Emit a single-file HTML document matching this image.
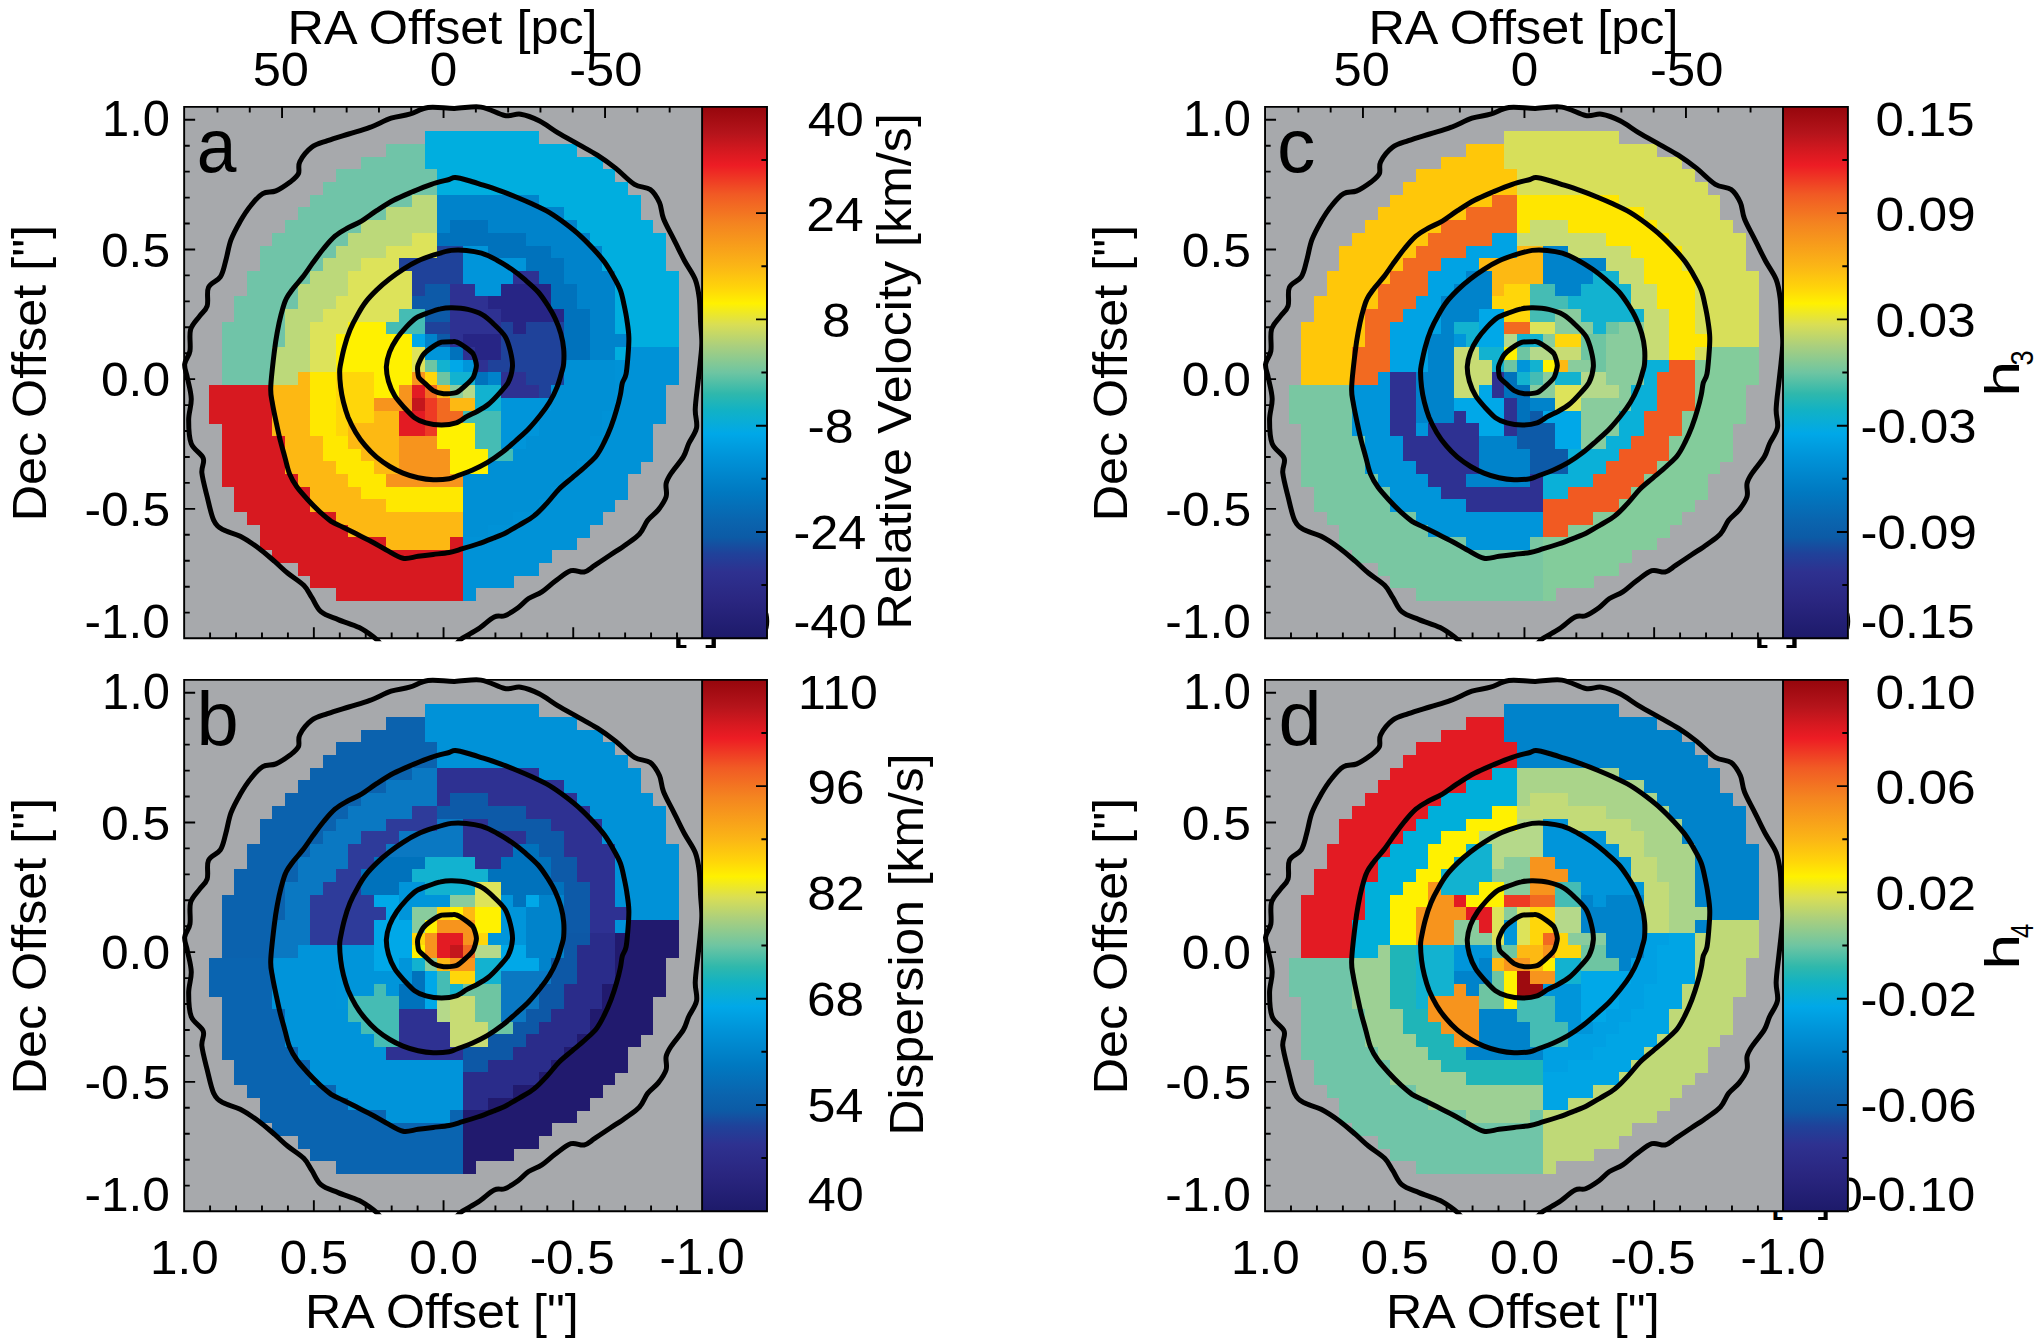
<!DOCTYPE html>
<html lang="en"><head><meta charset="utf-8"><title>Kinematic maps</title>
<style>html,body{margin:0;padding:0;background:#fff}svg{display:block}text{font-family:"Liberation Sans",Arial,Helvetica,sans-serif;fill:#000}</style></head><body>
<svg width="2041" height="1344" viewBox="0 0 2041 1344">
<defs>
<linearGradient id="cm" x1="0" y1="1" x2="0" y2="0"><stop offset="0.000" stop-color="#1D1A6A"/><stop offset="0.070" stop-color="#2A2680"/><stop offset="0.125" stop-color="#2E3190"/><stop offset="0.160" stop-color="#1F429A"/><stop offset="0.190" stop-color="#0C5BA6"/><stop offset="0.220" stop-color="#0A64AE"/><stop offset="0.275" stop-color="#0079C1"/><stop offset="0.340" stop-color="#0093D8"/><stop offset="0.385" stop-color="#00A8E8"/><stop offset="0.430" stop-color="#12B2C4"/><stop offset="0.460" stop-color="#2FB8AC"/><stop offset="0.500" stop-color="#6EC5A2"/><stop offset="0.550" stop-color="#AACF7E"/><stop offset="0.590" stop-color="#D9DE55"/><stop offset="0.630" stop-color="#FFF100"/><stop offset="0.660" stop-color="#FFD40A"/><stop offset="0.700" stop-color="#FBB616"/><stop offset="0.780" stop-color="#F48420"/><stop offset="0.835" stop-color="#F15A24"/><stop offset="0.890" stop-color="#ED1C24"/><stop offset="0.915" stop-color="#D71920"/><stop offset="0.950" stop-color="#B5141B"/><stop offset="1.000" stop-color="#96060C"/></linearGradient>
<clipPath id="clipa"><rect x="184.15" y="106.9" width="517.95" height="531.3"/></clipPath>
<clipPath id="cclipa"><rect x="-3" y="-3" width="520.95" height="537.3"/></clipPath>
<clipPath id="clipb"><rect x="184.15" y="679.9" width="517.95" height="531.3"/></clipPath>
<clipPath id="cclipb"><rect x="-3" y="-3" width="520.95" height="537.3"/></clipPath>
<clipPath id="clipc"><rect x="1265.05" y="106.9" width="517.95" height="531.3"/></clipPath>
<clipPath id="cclipc"><rect x="-3" y="-3" width="520.95" height="537.3"/></clipPath>
<clipPath id="clipd"><rect x="1265.05" y="679.9" width="517.95" height="531.3"/></clipPath>
<clipPath id="cclipd"><rect x="-3" y="-3" width="520.95" height="537.3"/></clipPath>
<clipPath id="fragA"><rect x="0" y="639.1" width="2041" height="30"/></clipPath><clipPath id="fragB"><rect x="0" y="1212.1" width="2041" height="30"/></clipPath><clipPath id="fragD"><rect x="1848.9" y="0" width="60" height="1344"/></clipPath><clipPath id="fragC"><rect x="768.0" y="0" width="60" height="1344"/></clipPath>
</defs>
<rect width="2041" height="1344" fill="#fff"/>
<g>
<rect x="184.15" y="106.9" width="517.95" height="531.3" fill="#A7A9AC"/>
<g clip-path="url(#clipa)" shape-rendering="crispEdges">
<rect x="424.56" y="131.33" width="114.51" height="12.99" fill="#00AEDF"/>
<rect x="386.49" y="144.02" width="38.37" height="12.99" fill="#70C4A8"/>
<rect x="424.56" y="144.02" width="152.58" height="12.99" fill="#00AEDF"/>
<rect x="361.11" y="156.71" width="63.75" height="12.99" fill="#70C4A8"/>
<rect x="424.56" y="156.71" width="177.96" height="12.99" fill="#00AEDF"/>
<rect x="335.73" y="169.4" width="101.82" height="12.99" fill="#70C4A8"/>
<rect x="437.25" y="169.4" width="177.96" height="12.99" fill="#00AEDF"/>
<rect x="323.04" y="182.09" width="114.51" height="12.99" fill="#70C4A8"/>
<rect x="437.25" y="182.09" width="190.65" height="12.99" fill="#00AEDF"/>
<rect x="310.35" y="194.78" width="101.82" height="12.99" fill="#70C4A8"/>
<rect x="411.87" y="194.78" width="25.68" height="12.99" fill="#BCD97A"/>
<rect x="437.25" y="194.78" width="101.82" height="12.99" fill="#0083CB"/>
<rect x="538.77" y="194.78" width="101.82" height="12.99" fill="#00AEDF"/>
<rect x="297.66" y="207.47" width="89.13" height="12.99" fill="#70C4A8"/>
<rect x="386.49" y="207.47" width="51.06" height="12.99" fill="#BCD97A"/>
<rect x="437.25" y="207.47" width="127.2" height="12.99" fill="#0083CB"/>
<rect x="564.15" y="207.47" width="76.44" height="12.99" fill="#00AEDF"/>
<rect x="284.97" y="220.16" width="76.44" height="12.99" fill="#70C4A8"/>
<rect x="361.11" y="220.16" width="76.44" height="12.99" fill="#BCD97A"/>
<rect x="437.25" y="220.16" width="12.99" height="12.99" fill="#0083CB"/>
<rect x="449.94" y="220.16" width="38.37" height="12.99" fill="#0072BC"/>
<rect x="488.01" y="220.16" width="89.13" height="12.99" fill="#0083CB"/>
<rect x="576.84" y="220.16" width="76.44" height="12.99" fill="#00AEDF"/>
<rect x="272.28" y="232.85" width="76.44" height="12.99" fill="#70C4A8"/>
<rect x="348.42" y="232.85" width="63.75" height="12.99" fill="#BCD97A"/>
<rect x="411.87" y="232.85" width="25.68" height="12.99" fill="#DDE35A"/>
<rect x="437.25" y="232.85" width="89.13" height="12.99" fill="#0072BC"/>
<rect x="526.08" y="232.85" width="63.75" height="12.99" fill="#0083CB"/>
<rect x="589.53" y="232.85" width="76.44" height="12.99" fill="#00AEDF"/>
<rect x="259.59" y="245.54" width="76.44" height="12.99" fill="#70C4A8"/>
<rect x="335.73" y="245.54" width="51.06" height="12.99" fill="#BCD97A"/>
<rect x="386.49" y="245.54" width="51.06" height="12.99" fill="#DDE35A"/>
<rect x="437.25" y="245.54" width="25.68" height="12.99" fill="#1F429A"/>
<rect x="462.63" y="245.54" width="25.68" height="12.99" fill="#0095DA"/>
<rect x="488.01" y="245.54" width="63.75" height="12.99" fill="#0072BC"/>
<rect x="551.46" y="245.54" width="51.06" height="12.99" fill="#0083CB"/>
<rect x="602.22" y="245.54" width="63.75" height="12.99" fill="#00AEDF"/>
<rect x="259.59" y="258.23" width="63.75" height="12.99" fill="#70C4A8"/>
<rect x="323.04" y="258.23" width="38.37" height="12.99" fill="#BCD97A"/>
<rect x="361.11" y="258.23" width="38.37" height="12.99" fill="#DDE35A"/>
<rect x="399.18" y="258.23" width="63.75" height="12.99" fill="#1F429A"/>
<rect x="462.63" y="258.23" width="63.75" height="12.99" fill="#0095DA"/>
<rect x="526.08" y="258.23" width="38.37" height="12.99" fill="#0072BC"/>
<rect x="564.15" y="258.23" width="38.37" height="12.99" fill="#0083CB"/>
<rect x="602.22" y="258.23" width="63.75" height="12.99" fill="#00AEDF"/>
<rect x="246.9" y="270.92" width="63.75" height="12.99" fill="#70C4A8"/>
<rect x="310.35" y="270.92" width="38.37" height="12.99" fill="#BCD97A"/>
<rect x="348.42" y="270.92" width="63.75" height="12.99" fill="#DDE35A"/>
<rect x="411.87" y="270.92" width="51.06" height="12.99" fill="#1F429A"/>
<rect x="462.63" y="270.92" width="51.06" height="12.99" fill="#0095DA"/>
<rect x="513.39" y="270.92" width="25.68" height="12.99" fill="#2E3192"/>
<rect x="538.77" y="270.92" width="25.68" height="12.99" fill="#0072BC"/>
<rect x="564.15" y="270.92" width="51.06" height="12.99" fill="#0083CB"/>
<rect x="614.91" y="270.92" width="63.75" height="12.99" fill="#00AEDF"/>
<rect x="246.9" y="283.61" width="51.06" height="12.99" fill="#70C4A8"/>
<rect x="297.66" y="283.61" width="51.06" height="12.99" fill="#BCD97A"/>
<rect x="348.42" y="283.61" width="63.75" height="12.99" fill="#DDE35A"/>
<rect x="411.87" y="283.61" width="12.99" height="12.99" fill="#1F429A"/>
<rect x="424.56" y="283.61" width="25.68" height="12.99" fill="#0D5AA8"/>
<rect x="449.94" y="283.61" width="25.68" height="12.99" fill="#2E3192"/>
<rect x="475.32" y="283.61" width="25.68" height="12.99" fill="#0095DA"/>
<rect x="500.7" y="283.61" width="51.06" height="12.99" fill="#272585"/>
<rect x="551.46" y="283.61" width="25.68" height="12.99" fill="#0072BC"/>
<rect x="576.84" y="283.61" width="38.37" height="12.99" fill="#0083CB"/>
<rect x="614.91" y="283.61" width="63.75" height="12.99" fill="#00AEDF"/>
<rect x="234.21" y="296.3" width="63.75" height="12.99" fill="#70C4A8"/>
<rect x="297.66" y="296.3" width="38.37" height="12.99" fill="#BCD97A"/>
<rect x="335.73" y="296.3" width="76.44" height="12.99" fill="#DDE35A"/>
<rect x="411.87" y="296.3" width="38.37" height="12.99" fill="#0D5AA8"/>
<rect x="449.94" y="296.3" width="38.37" height="12.99" fill="#2E3192"/>
<rect x="488.01" y="296.3" width="63.75" height="12.99" fill="#272585"/>
<rect x="551.46" y="296.3" width="25.68" height="12.99" fill="#0072BC"/>
<rect x="576.84" y="296.3" width="38.37" height="12.99" fill="#0083CB"/>
<rect x="614.91" y="296.3" width="63.75" height="12.99" fill="#00AEDF"/>
<rect x="234.21" y="308.99" width="51.06" height="12.99" fill="#70C4A8"/>
<rect x="284.97" y="308.99" width="38.37" height="12.99" fill="#BCD97A"/>
<rect x="323.04" y="308.99" width="76.44" height="12.99" fill="#DDE35A"/>
<rect x="399.18" y="308.99" width="25.68" height="12.99" fill="#45BCB4"/>
<rect x="424.56" y="308.99" width="25.68" height="12.99" fill="#0D5AA8"/>
<rect x="449.94" y="308.99" width="51.06" height="12.99" fill="#2E3192"/>
<rect x="500.7" y="308.99" width="63.75" height="12.99" fill="#272585"/>
<rect x="564.15" y="308.99" width="25.68" height="12.99" fill="#0072BC"/>
<rect x="589.53" y="308.99" width="25.68" height="12.99" fill="#0083CB"/>
<rect x="614.91" y="308.99" width="63.75" height="12.99" fill="#00AEDF"/>
<rect x="221.52" y="321.68" width="63.75" height="12.99" fill="#70C4A8"/>
<rect x="284.97" y="321.68" width="25.68" height="12.99" fill="#BCD97A"/>
<rect x="310.35" y="321.68" width="38.37" height="12.99" fill="#DDE35A"/>
<rect x="348.42" y="321.68" width="38.37" height="12.99" fill="#FFF100"/>
<rect x="386.49" y="321.68" width="38.37" height="12.99" fill="#45BCB4"/>
<rect x="424.56" y="321.68" width="25.68" height="12.99" fill="#1F429A"/>
<rect x="449.94" y="321.68" width="51.06" height="12.99" fill="#2E3192"/>
<rect x="500.7" y="321.68" width="12.99" height="12.99" fill="#1F429A"/>
<rect x="513.39" y="321.68" width="12.99" height="12.99" fill="#272585"/>
<rect x="526.08" y="321.68" width="38.37" height="12.99" fill="#1F429A"/>
<rect x="564.15" y="321.68" width="25.68" height="12.99" fill="#0072BC"/>
<rect x="589.53" y="321.68" width="25.68" height="12.99" fill="#0083CB"/>
<rect x="614.91" y="321.68" width="63.75" height="12.99" fill="#00AEDF"/>
<rect x="221.52" y="334.37" width="63.75" height="12.99" fill="#70C4A8"/>
<rect x="284.97" y="334.37" width="25.68" height="12.99" fill="#BCD97A"/>
<rect x="310.35" y="334.37" width="25.68" height="12.99" fill="#DDE35A"/>
<rect x="335.73" y="334.37" width="76.44" height="12.99" fill="#FFF100"/>
<rect x="411.87" y="334.37" width="12.99" height="12.99" fill="#00A8E8"/>
<rect x="424.56" y="334.37" width="12.99" height="12.99" fill="#0083CB"/>
<rect x="437.25" y="334.37" width="12.99" height="12.99" fill="#0D5AA8"/>
<rect x="449.94" y="334.37" width="12.99" height="12.99" fill="#2E3192"/>
<rect x="462.63" y="334.37" width="38.37" height="12.99" fill="#272585"/>
<rect x="500.7" y="334.37" width="63.75" height="12.99" fill="#1F429A"/>
<rect x="564.15" y="334.37" width="25.68" height="12.99" fill="#0072BC"/>
<rect x="589.53" y="334.37" width="38.37" height="12.99" fill="#0083CB"/>
<rect x="627.6" y="334.37" width="51.06" height="12.99" fill="#00AEDF"/>
<rect x="221.52" y="347.06" width="51.06" height="12.99" fill="#70C4A8"/>
<rect x="272.28" y="347.06" width="38.37" height="12.99" fill="#BCD97A"/>
<rect x="310.35" y="347.06" width="25.68" height="12.99" fill="#DDE35A"/>
<rect x="335.73" y="347.06" width="76.44" height="12.99" fill="#FFF100"/>
<rect x="411.87" y="347.06" width="12.99" height="12.99" fill="#DDE35A"/>
<rect x="424.56" y="347.06" width="25.68" height="12.99" fill="#0095DA"/>
<rect x="449.94" y="347.06" width="12.99" height="12.99" fill="#0072BC"/>
<rect x="462.63" y="347.06" width="12.99" height="12.99" fill="#2E3192"/>
<rect x="475.32" y="347.06" width="25.68" height="12.99" fill="#272585"/>
<rect x="500.7" y="347.06" width="63.75" height="12.99" fill="#1F429A"/>
<rect x="564.15" y="347.06" width="25.68" height="12.99" fill="#0072BC"/>
<rect x="589.53" y="347.06" width="25.68" height="12.99" fill="#0083CB"/>
<rect x="614.91" y="347.06" width="12.99" height="12.99" fill="#00AEDF"/>
<rect x="627.6" y="347.06" width="51.06" height="12.99" fill="#0092D7"/>
<rect x="221.52" y="359.75" width="51.06" height="12.99" fill="#70C4A8"/>
<rect x="272.28" y="359.75" width="38.37" height="12.99" fill="#BCD97A"/>
<rect x="310.35" y="359.75" width="25.68" height="12.99" fill="#DDE35A"/>
<rect x="335.73" y="359.75" width="76.44" height="12.99" fill="#FFF100"/>
<rect x="411.87" y="359.75" width="12.99" height="12.99" fill="#DDE35A"/>
<rect x="424.56" y="359.75" width="12.99" height="12.99" fill="#6EC5A2"/>
<rect x="437.25" y="359.75" width="12.99" height="12.99" fill="#12B2D0"/>
<rect x="449.94" y="359.75" width="12.99" height="12.99" fill="#00A8E8"/>
<rect x="462.63" y="359.75" width="12.99" height="12.99" fill="#0095DA"/>
<rect x="475.32" y="359.75" width="12.99" height="12.99" fill="#2E3192"/>
<rect x="488.01" y="359.75" width="76.44" height="12.99" fill="#1F429A"/>
<rect x="564.15" y="359.75" width="51.06" height="12.99" fill="#0090D5"/>
<rect x="614.91" y="359.75" width="63.75" height="12.99" fill="#0092D7"/>
<rect x="221.52" y="372.44" width="51.06" height="12.99" fill="#70C4A8"/>
<rect x="272.28" y="372.44" width="25.68" height="12.99" fill="#BCD97A"/>
<rect x="297.66" y="372.44" width="12.99" height="12.99" fill="#FDB813"/>
<rect x="310.35" y="372.44" width="25.68" height="12.99" fill="#FFE800"/>
<rect x="335.73" y="372.44" width="38.37" height="12.99" fill="#FFD60A"/>
<rect x="373.8" y="372.44" width="38.37" height="12.99" fill="#FFF100"/>
<rect x="411.87" y="372.44" width="12.99" height="12.99" fill="#F7941D"/>
<rect x="424.56" y="372.44" width="12.99" height="12.99" fill="#FFD60A"/>
<rect x="437.25" y="372.44" width="12.99" height="12.99" fill="#6EC5A2"/>
<rect x="449.94" y="372.44" width="25.68" height="12.99" fill="#12B2D0"/>
<rect x="475.32" y="372.44" width="12.99" height="12.99" fill="#0072BC"/>
<rect x="488.01" y="372.44" width="12.99" height="12.99" fill="#0083CB"/>
<rect x="500.7" y="372.44" width="25.68" height="12.99" fill="#2E3192"/>
<rect x="526.08" y="372.44" width="38.37" height="12.99" fill="#1F429A"/>
<rect x="564.15" y="372.44" width="51.06" height="12.99" fill="#0090D5"/>
<rect x="614.91" y="372.44" width="63.75" height="12.99" fill="#0092D7"/>
<rect x="208.83" y="385.13" width="63.75" height="12.99" fill="#D71920"/>
<rect x="272.28" y="385.13" width="38.37" height="12.99" fill="#FDB813"/>
<rect x="310.35" y="385.13" width="25.68" height="12.99" fill="#FFE800"/>
<rect x="335.73" y="385.13" width="38.37" height="12.99" fill="#FFD60A"/>
<rect x="373.8" y="385.13" width="25.68" height="12.99" fill="#FFF100"/>
<rect x="399.18" y="385.13" width="12.99" height="12.99" fill="#F7941D"/>
<rect x="411.87" y="385.13" width="12.99" height="12.99" fill="#E31B23"/>
<rect x="424.56" y="385.13" width="12.99" height="12.99" fill="#F26A21"/>
<rect x="437.25" y="385.13" width="12.99" height="12.99" fill="#FDB913"/>
<rect x="449.94" y="385.13" width="12.99" height="12.99" fill="#89CC9D"/>
<rect x="462.63" y="385.13" width="12.99" height="12.99" fill="#B5D98A"/>
<rect x="475.32" y="385.13" width="25.68" height="12.99" fill="#12B2D0"/>
<rect x="500.7" y="385.13" width="38.37" height="12.99" fill="#2E3192"/>
<rect x="538.77" y="385.13" width="12.99" height="12.99" fill="#1F429A"/>
<rect x="551.46" y="385.13" width="63.75" height="12.99" fill="#0090D5"/>
<rect x="614.91" y="385.13" width="51.06" height="12.99" fill="#0092D7"/>
<rect x="208.83" y="397.82" width="63.75" height="12.99" fill="#D71920"/>
<rect x="272.28" y="397.82" width="38.37" height="12.99" fill="#FDB813"/>
<rect x="310.35" y="397.82" width="25.68" height="12.99" fill="#FFE800"/>
<rect x="335.73" y="397.82" width="38.37" height="12.99" fill="#FFD60A"/>
<rect x="373.8" y="397.82" width="38.37" height="12.99" fill="#F7941D"/>
<rect x="411.87" y="397.82" width="12.99" height="12.99" fill="#C4161C"/>
<rect x="424.56" y="397.82" width="12.99" height="12.99" fill="#EE3A24"/>
<rect x="437.25" y="397.82" width="12.99" height="12.99" fill="#F26A21"/>
<rect x="449.94" y="397.82" width="25.68" height="12.99" fill="#FDB913"/>
<rect x="475.32" y="397.82" width="25.68" height="12.99" fill="#12B2D0"/>
<rect x="500.7" y="397.82" width="51.06" height="12.99" fill="#0095DA"/>
<rect x="551.46" y="397.82" width="63.75" height="12.99" fill="#0090D5"/>
<rect x="614.91" y="397.82" width="51.06" height="12.99" fill="#0092D7"/>
<rect x="208.83" y="410.51" width="63.75" height="12.99" fill="#D71920"/>
<rect x="272.28" y="410.51" width="38.37" height="12.99" fill="#FDB813"/>
<rect x="310.35" y="410.51" width="25.68" height="12.99" fill="#FFE800"/>
<rect x="335.73" y="410.51" width="38.37" height="12.99" fill="#FFD60A"/>
<rect x="373.8" y="410.51" width="25.68" height="12.99" fill="#FDB913"/>
<rect x="399.18" y="410.51" width="25.68" height="12.99" fill="#E31B23"/>
<rect x="424.56" y="410.51" width="12.99" height="12.99" fill="#EE3A24"/>
<rect x="437.25" y="410.51" width="25.68" height="12.99" fill="#F26A21"/>
<rect x="462.63" y="410.51" width="38.37" height="12.99" fill="#45BCB4"/>
<rect x="500.7" y="410.51" width="38.37" height="12.99" fill="#0095DA"/>
<rect x="538.77" y="410.51" width="63.75" height="12.99" fill="#0090D5"/>
<rect x="602.22" y="410.51" width="63.75" height="12.99" fill="#0092D7"/>
<rect x="221.52" y="423.2" width="51.06" height="12.99" fill="#D71920"/>
<rect x="272.28" y="423.2" width="38.37" height="12.99" fill="#FDB813"/>
<rect x="310.35" y="423.2" width="25.68" height="12.99" fill="#FFE800"/>
<rect x="335.73" y="423.2" width="12.99" height="12.99" fill="#FFD60A"/>
<rect x="348.42" y="423.2" width="51.06" height="12.99" fill="#FDB913"/>
<rect x="399.18" y="423.2" width="25.68" height="12.99" fill="#E31B23"/>
<rect x="424.56" y="423.2" width="12.99" height="12.99" fill="#EE3A24"/>
<rect x="437.25" y="423.2" width="38.37" height="12.99" fill="#FFF100"/>
<rect x="475.32" y="423.2" width="25.68" height="12.99" fill="#45BCB4"/>
<rect x="500.7" y="423.2" width="38.37" height="12.99" fill="#0095DA"/>
<rect x="538.77" y="423.2" width="63.75" height="12.99" fill="#0090D5"/>
<rect x="602.22" y="423.2" width="51.06" height="12.99" fill="#0092D7"/>
<rect x="221.52" y="435.89" width="63.75" height="12.99" fill="#D71920"/>
<rect x="284.97" y="435.89" width="38.37" height="12.99" fill="#FDB813"/>
<rect x="323.04" y="435.89" width="25.68" height="12.99" fill="#FFE800"/>
<rect x="348.42" y="435.89" width="51.06" height="12.99" fill="#FDB913"/>
<rect x="399.18" y="435.89" width="38.37" height="12.99" fill="#F7941D"/>
<rect x="437.25" y="435.89" width="38.37" height="12.99" fill="#FFF100"/>
<rect x="475.32" y="435.89" width="25.68" height="12.99" fill="#45BCB4"/>
<rect x="500.7" y="435.89" width="25.68" height="12.99" fill="#0095DA"/>
<rect x="526.08" y="435.89" width="63.75" height="12.99" fill="#0090D5"/>
<rect x="589.53" y="435.89" width="63.75" height="12.99" fill="#0092D7"/>
<rect x="221.52" y="448.58" width="63.75" height="12.99" fill="#D71920"/>
<rect x="284.97" y="448.58" width="38.37" height="12.99" fill="#FDB813"/>
<rect x="323.04" y="448.58" width="38.37" height="12.99" fill="#FFE800"/>
<rect x="361.11" y="448.58" width="38.37" height="12.99" fill="#FDB913"/>
<rect x="399.18" y="448.58" width="51.06" height="12.99" fill="#F7941D"/>
<rect x="449.94" y="448.58" width="38.37" height="12.99" fill="#FFF100"/>
<rect x="488.01" y="448.58" width="25.68" height="12.99" fill="#45BCB4"/>
<rect x="513.39" y="448.58" width="76.44" height="12.99" fill="#0090D5"/>
<rect x="589.53" y="448.58" width="63.75" height="12.99" fill="#0092D7"/>
<rect x="221.52" y="461.27" width="63.75" height="12.99" fill="#D71920"/>
<rect x="284.97" y="461.27" width="51.06" height="12.99" fill="#FDB813"/>
<rect x="335.73" y="461.27" width="38.37" height="12.99" fill="#FFE800"/>
<rect x="373.8" y="461.27" width="25.68" height="12.99" fill="#FDB913"/>
<rect x="399.18" y="461.27" width="51.06" height="12.99" fill="#F7941D"/>
<rect x="449.94" y="461.27" width="38.37" height="12.99" fill="#FFF100"/>
<rect x="488.01" y="461.27" width="89.13" height="12.99" fill="#0090D5"/>
<rect x="576.84" y="461.27" width="63.75" height="12.99" fill="#0092D7"/>
<rect x="221.52" y="473.96" width="76.44" height="12.99" fill="#D71920"/>
<rect x="297.66" y="473.96" width="51.06" height="12.99" fill="#FDB813"/>
<rect x="348.42" y="473.96" width="38.37" height="12.99" fill="#FFE800"/>
<rect x="386.49" y="473.96" width="76.44" height="12.99" fill="#F7941D"/>
<rect x="462.63" y="473.96" width="101.82" height="12.99" fill="#0090D5"/>
<rect x="564.15" y="473.96" width="63.75" height="12.99" fill="#0092D7"/>
<rect x="234.21" y="486.65" width="76.44" height="12.99" fill="#D71920"/>
<rect x="310.35" y="486.65" width="51.06" height="12.99" fill="#FDB813"/>
<rect x="361.11" y="486.65" width="101.82" height="12.99" fill="#FFE800"/>
<rect x="462.63" y="486.65" width="89.13" height="12.99" fill="#0090D5"/>
<rect x="551.46" y="486.65" width="76.44" height="12.99" fill="#0092D7"/>
<rect x="234.21" y="499.34" width="76.44" height="12.99" fill="#D71920"/>
<rect x="310.35" y="499.34" width="76.44" height="12.99" fill="#FDB813"/>
<rect x="386.49" y="499.34" width="76.44" height="12.99" fill="#FFE800"/>
<rect x="462.63" y="499.34" width="76.44" height="12.99" fill="#0090D5"/>
<rect x="538.77" y="499.34" width="76.44" height="12.99" fill="#0092D7"/>
<rect x="246.9" y="512.03" width="89.13" height="12.99" fill="#D71920"/>
<rect x="335.73" y="512.03" width="127.2" height="12.99" fill="#FDB813"/>
<rect x="462.63" y="512.03" width="51.06" height="12.99" fill="#0090D5"/>
<rect x="513.39" y="512.03" width="89.13" height="12.99" fill="#0092D7"/>
<rect x="259.59" y="524.72" width="89.13" height="12.99" fill="#D71920"/>
<rect x="348.42" y="524.72" width="114.51" height="12.99" fill="#FDB813"/>
<rect x="462.63" y="524.72" width="25.68" height="12.99" fill="#0090D5"/>
<rect x="488.01" y="524.72" width="101.82" height="12.99" fill="#0092D7"/>
<rect x="259.59" y="537.41" width="127.2" height="12.99" fill="#D71920"/>
<rect x="386.49" y="537.41" width="63.75" height="12.99" fill="#FDB813"/>
<rect x="449.94" y="537.41" width="12.99" height="12.99" fill="#D71920"/>
<rect x="462.63" y="537.41" width="114.51" height="12.99" fill="#0092D7"/>
<rect x="272.28" y="550.1" width="190.65" height="12.99" fill="#D71920"/>
<rect x="462.63" y="550.1" width="89.13" height="12.99" fill="#0092D7"/>
<rect x="297.66" y="562.79" width="165.27" height="12.99" fill="#D71920"/>
<rect x="462.63" y="562.79" width="76.44" height="12.99" fill="#0092D7"/>
<rect x="310.35" y="575.48" width="152.58" height="12.99" fill="#D71920"/>
<rect x="462.63" y="575.48" width="51.06" height="12.99" fill="#0092D7"/>
<rect x="335.73" y="588.17" width="127.2" height="12.99" fill="#D71920"/>
<rect x="462.63" y="588.17" width="12.99" height="12.99" fill="#0092D7"/>
</g>
<g clip-path="url(#cclipa)" transform="translate(184.15,106.9)" fill="none" stroke="#000" stroke-width="5" stroke-linejoin="round">
<path d="M0.5 257.3C1.0 252.9 4.9 249.8 5.8 244.1C6.8 238.3 4.8 228.6 6.4 222.9C7.9 217.2 12.3 213.6 15.1 209.7C17.9 205.7 21.5 203.9 23.0 199.1C24.6 194.2 22.1 185.4 24.3 180.6C26.5 175.7 33.4 174.4 36.2 170.0C39.1 165.6 39.8 160.3 41.5 154.1C43.3 147.9 44.4 139.6 46.8 133.0C49.3 126.3 52.8 120.2 56.1 114.4C59.4 108.7 62.9 103.2 66.7 98.6C70.4 93.9 74.4 89.1 78.6 86.7C82.8 84.2 87.2 86.0 91.8 84.0C96.4 82.0 102.6 77.6 106.4 74.8C110.1 71.9 112.7 70.1 114.3 66.8C115.8 63.5 113.4 59.3 115.6 54.9C117.8 50.5 122.9 43.9 127.5 40.4C132.1 36.8 137.2 36.0 143.4 33.8C149.6 31.5 157.5 29.3 164.6 27.1C171.6 24.9 178.7 23.2 185.7 20.5C192.8 17.9 200.3 13.5 206.9 11.3C213.5 9.1 219.2 9.1 225.4 7.3C231.6 5.5 236.4 1.7 243.9 0.7C251.4 -0.3 261.6 1.6 270.4 1.5C279.2 1.4 288.5 -1.0 296.8 0.2C305.2 1.3 314.0 7.4 320.6 8.6C327.3 9.8 330.8 6.4 336.5 7.3C342.2 8.2 348.9 10.8 355.0 13.9C361.2 17.0 366.9 21.8 373.5 25.8C380.2 29.8 388.1 34.0 394.7 37.7C401.3 41.5 407.1 44.3 413.2 48.3C419.4 52.3 425.6 56.7 431.7 61.5C437.9 66.4 444.5 73.9 450.3 77.4C456.0 80.9 462.0 79.6 466.1 82.7C470.3 85.8 473.2 91.1 475.4 95.9C477.6 100.8 476.9 105.6 479.4 111.8C481.8 118.0 486.4 125.9 489.9 133.0C493.5 140.0 497.0 147.5 500.5 154.1C504.1 160.7 508.7 166.5 511.1 172.6C513.5 178.8 514.2 184.1 515.1 191.2C516.0 198.2 516.0 207.5 516.4 215.0C516.8 222.5 517.8 229.1 517.7 236.1C517.6 243.2 516.5 250.7 515.9 257.3C515.2 263.9 514.6 268.5 513.8 276.0C513.0 283.5 511.3 294.9 511.1 302.4C510.9 309.9 513.5 315.2 512.4 320.9C511.3 326.7 506.7 332.0 504.5 336.8C502.3 341.7 502.1 345.2 499.2 350.0C496.3 354.9 490.2 361.5 487.3 365.9C484.4 370.3 482.9 372.5 482.0 376.5C481.1 380.5 483.3 385.3 482.0 389.7C480.7 394.1 477.2 399.0 474.1 403.0C471.0 406.9 466.6 409.6 463.5 413.5C460.4 417.5 459.1 422.8 455.6 426.8C452.0 430.7 447.2 433.8 442.3 437.3C437.5 440.9 431.7 444.4 426.5 447.9C421.2 451.5 415.0 455.6 410.6 458.5C406.2 461.4 404.0 464.2 400.0 465.1C396.0 466.0 391.6 462.3 386.8 463.8C381.9 465.3 375.8 470.9 370.9 474.4C366.1 477.9 362.1 482.1 357.7 485.0C353.3 487.8 348.4 488.9 344.4 491.6C340.5 494.2 337.8 498.0 333.9 500.8C329.9 503.7 324.6 507.2 320.6 508.8C316.7 510.3 314.5 507.9 310.1 510.1C305.6 512.3 299.5 518.5 294.2 522.0C288.9 525.5 283.2 528.2 278.3 531.3C273.5 534.4 273.5 537.7 265.1 540.5C256.7 543.4 238.6 548.5 228.0 548.5C217.5 548.5 207.8 543.4 201.6 540.5C195.4 537.7 195.4 534.6 191.0 531.3C186.6 528.0 181.3 523.8 175.1 520.7C169.0 517.6 160.4 515.4 154.0 512.7C147.6 510.1 141.2 508.6 136.8 504.8C132.4 501.1 130.4 494.7 127.5 490.3C124.7 485.8 123.5 482.3 119.6 478.4C115.6 474.4 108.6 470.4 103.7 466.4C98.9 462.5 95.3 458.7 90.5 454.5C85.6 450.4 80.3 445.5 74.6 441.3C68.9 437.1 62.0 432.5 56.1 429.4C50.1 426.3 43.3 425.4 38.9 422.8C34.5 420.2 32.3 419.1 29.6 413.5C27.0 408.0 25.0 397.7 23.0 389.7C21.0 381.8 18.4 372.3 17.7 365.9C17.1 359.5 20.8 356.2 19.1 351.4C17.3 346.5 9.6 343.2 7.1 336.8C4.7 330.4 4.5 320.5 4.5 313.0C4.5 305.5 7.4 298.9 7.1 291.8C6.9 284.8 4.3 276.4 3.2 270.7C2.1 264.9 0.1 261.7 0.5 257.3Z"/>
<path d="M270.9 70.7C274.0 70.9 279.4 72.3 284.1 73.6C288.8 74.8 293.8 76.6 299.2 78.3C304.6 80.0 310.5 81.9 316.2 84.0C321.9 86.0 327.9 88.4 333.2 90.6C338.6 92.8 343.0 94.7 348.3 97.2C353.7 99.7 360.0 102.6 365.4 105.7C370.7 108.9 375.4 112.3 380.5 116.1C385.5 119.9 390.9 124.1 395.6 128.4C400.3 132.6 404.7 137.2 408.8 141.6C412.9 146.0 416.7 150.1 420.2 154.9C423.6 159.6 426.9 165.2 429.6 170.0C432.3 174.7 434.5 178.5 436.2 183.2C438.0 187.9 438.9 193.3 440.0 198.3C441.1 203.4 442.1 208.1 442.8 213.4C443.6 218.8 444.6 224.5 444.7 230.5C444.9 236.4 444.3 243.2 443.8 249.4C443.3 255.5 442.8 262.6 441.9 267.1C441.0 271.6 439.1 273.0 438.1 276.4C437.2 279.9 437.2 283.4 436.2 287.8C435.3 292.2 434.0 297.5 432.4 302.9C430.9 308.3 428.8 314.6 426.8 319.9C424.7 325.3 422.5 330.3 420.2 335.0C417.8 339.8 415.8 344.2 412.6 348.3C409.5 352.4 405.4 355.8 401.3 359.6C397.2 363.4 392.4 367.2 388.0 370.9C383.6 374.7 378.9 378.2 374.8 382.3C370.7 386.4 367.6 391.1 363.5 395.5C359.4 399.9 355.0 405.0 350.2 408.7C345.5 412.5 339.8 415.4 335.1 418.2C330.4 421.0 326.3 423.5 321.9 425.8C317.5 428.0 313.4 429.5 308.7 431.4C303.9 433.3 298.6 435.4 293.5 437.1C288.5 438.8 283.2 440.4 278.4 441.8C273.6 443.2 269.9 444.7 265.0 445.6C260.1 446.5 254.3 446.9 249.1 447.5C243.9 448.1 239.0 448.7 234.0 449.4C228.9 450.0 224.2 452.4 218.9 451.3C213.5 450.2 207.2 445.6 201.8 442.8C196.5 439.9 191.8 436.9 186.7 434.3C181.7 431.6 176.3 429.1 171.6 426.7C166.9 424.3 162.5 422.1 158.4 420.1C154.3 418.0 150.8 416.9 147.0 414.4C143.3 411.9 139.5 408.4 135.7 405.0C131.9 401.5 128.1 397.7 124.4 393.6C120.6 389.5 116.2 384.8 113.0 380.4C109.9 376.0 107.5 372.2 105.5 367.2C103.4 362.1 102.3 355.8 100.7 350.2C99.2 344.5 97.4 338.8 96.0 333.1C94.6 327.5 93.5 322.1 92.2 316.1C91.0 310.1 89.4 303.2 88.4 297.2C87.5 291.2 86.2 289.1 86.6 280.2C86.9 271.3 89.2 252.9 90.3 243.7C91.4 234.4 92.1 230.8 93.2 224.8C94.3 218.8 95.5 213.1 96.9 207.8C98.4 202.4 99.6 197.1 101.7 192.7C103.7 188.2 106.4 185.1 109.2 181.3C112.1 177.5 115.5 174.1 118.7 170.0C121.8 165.9 124.7 161.5 128.1 156.7C131.6 152.0 135.7 146.2 139.5 141.6C143.3 137.1 147.0 132.6 150.8 129.3C154.6 126.0 157.7 124.3 162.2 121.8C166.6 119.3 172.2 117.2 177.3 114.2C182.3 111.2 187.0 107.3 192.4 103.8C197.7 100.4 203.4 96.6 209.4 93.4C215.4 90.3 222.0 87.6 228.3 84.9C234.6 82.2 241.1 79.4 247.2 77.4C253.3 75.3 261.0 73.7 265.0 72.6C268.9 71.5 267.7 70.6 270.9 70.7Z"/>
<path d="M267.1 143.5C272.6 142.7 277.2 143.0 282.2 143.5C287.2 144.0 292.3 144.8 297.3 146.3C302.4 147.9 307.4 150.3 312.4 153.0C317.5 155.6 322.8 159.1 327.6 162.4C332.3 165.7 336.4 169.0 340.8 172.8C345.2 176.6 350.2 180.8 354.0 185.1C357.8 189.3 360.6 193.9 363.5 198.3C366.3 202.7 368.8 206.8 371.0 211.6C373.2 216.3 375.3 221.6 376.7 226.7C378.1 231.7 379.1 236.8 379.5 241.8C380.0 246.8 379.8 253.0 379.5 256.9C379.2 260.8 378.7 261.2 377.6 265.1C376.5 269.0 375.0 275.2 372.9 280.2C370.9 285.3 368.2 290.6 365.4 295.3C362.5 300.1 359.4 304.2 355.9 308.6C352.4 313.0 348.7 317.5 344.6 321.8C340.5 326.1 335.7 330.1 331.3 334.1C326.9 338.0 322.8 341.8 318.1 345.4C313.4 349.0 308.0 352.8 303.0 355.8C297.9 358.8 292.9 361.2 287.9 363.4C282.8 365.6 276.6 367.6 272.7 369.1C268.9 370.5 268.9 371.3 265.0 371.9C261.0 372.5 254.3 373.0 249.1 372.8C243.9 372.7 239.0 372.0 234.0 370.9C228.9 369.8 223.6 368.1 218.9 366.2C214.1 364.3 210.0 362.3 205.6 359.6C201.2 356.9 196.5 353.6 192.4 350.2C188.3 346.7 184.5 342.9 181.1 338.8C177.6 334.7 174.4 330.3 171.6 325.6C168.8 320.9 166.1 315.5 164.0 310.5C162.0 305.4 160.6 300.4 159.3 295.3C158.1 290.3 157.1 285.3 156.5 280.2C155.9 275.2 155.5 269.0 155.5 265.1C155.5 261.2 155.7 261.1 156.5 256.9C157.3 252.7 158.7 245.6 160.3 239.9C161.8 234.2 163.7 228.2 165.9 222.9C168.1 217.5 170.8 212.5 173.5 207.8C176.2 203.0 178.8 198.6 182.0 194.5C185.1 190.4 188.5 187.0 192.4 183.2C196.3 179.4 201.2 175.3 205.6 171.9C210.0 168.4 214.1 165.4 218.9 162.4C223.6 159.4 228.9 156.3 234.0 153.9C239.0 151.5 243.6 150.0 249.1 148.2C254.6 146.5 261.6 144.3 267.1 143.5Z"/>
<path d="M267.9 200.9C271.5 201.0 279.5 201.6 283.5 202.5C287.5 203.4 294.6 205.7 298.1 207.7C301.5 209.6 306.5 214.1 309.5 217.1C312.6 220.0 318.8 225.9 321.0 229.6C323.2 233.2 325.2 240.1 326.2 244.1C327.2 248.2 328.6 255.6 328.3 259.8C328.0 263.9 325.9 271.8 324.1 275.4C322.3 279.0 317.4 283.9 314.7 286.9C312.1 289.8 307.2 294.9 304.3 297.3C301.4 299.6 295.8 302.9 292.9 304.6C289.9 306.2 285.2 308.2 282.4 309.8C279.7 311.3 275.4 314.9 272.0 316.0C268.7 317.1 261.5 318.1 257.4 318.1C253.4 318.1 245.4 317.0 241.8 316.0C238.2 315.0 233.3 312.9 230.4 310.8C227.5 308.7 222.6 303.3 219.9 300.4C217.3 297.5 212.7 292.4 210.6 288.9C208.5 285.5 205.4 278.2 204.3 274.4C203.2 270.5 202.1 263.7 202.2 259.8C202.4 255.9 204.0 248.9 205.4 245.2C206.8 241.4 210.4 235.0 212.7 231.6C214.9 228.3 219.4 223.0 222.0 220.2C224.7 217.4 229.4 212.8 232.4 210.8C235.5 208.9 241.8 206.8 244.9 205.6C248.1 204.4 253.4 202.6 256.4 202.0C259.5 201.3 264.3 200.8 267.9 200.9Z"/>
<path d="M267.9 234.8C269.3 234.7 270.7 234.4 272.0 235.0C273.4 235.5 279.7 239.3 281.4 240.5C283.1 241.7 288.1 245.4 289.2 247.3C290.3 249.1 292.3 256.4 292.3 258.7C292.3 261.0 290.3 268.2 289.2 270.2C288.1 272.2 283.1 277.0 281.4 278.5C279.7 280.1 274.2 285.0 272.0 285.8C269.8 286.6 261.8 287.1 259.5 286.9C257.2 286.6 251.0 284.8 249.1 283.7C247.2 282.7 242.2 277.8 240.8 276.4C239.3 275.1 235.3 271.9 234.5 270.2C233.8 268.5 233.1 262.0 233.5 259.8C233.9 257.6 237.3 250.2 238.7 248.3C240.1 246.4 245.2 242.3 247.0 241.0C248.9 239.7 255.4 235.9 257.4 235.3C259.5 234.7 266.4 234.8 267.9 234.8Z"/>
</g>
<rect x="702.1" y="106.9" width="64.9" height="531.3" fill="url(#cm)"/>
<path d="M184.15 612.62h5.6M677.01 638.2v-5.6M184.15 586.68h5.6M651.07 638.2v-5.6M184.15 560.74h5.6M625.13 638.2v-5.6M184.15 534.8h5.6M599.19 638.2v-5.6M184.15 508.86h11M573.25 638.2v-11M184.15 482.92h5.6M547.31 638.2v-5.6M184.15 456.98h5.6M521.37 638.2v-5.6M184.15 431.04h5.6M495.43 638.2v-5.6M184.15 405.1h5.6M469.49 638.2v-5.6M184.15 379.16h11M443.55 638.2v-11M184.15 353.22h5.6M417.61 638.2v-5.6M184.15 327.28h5.6M391.67 638.2v-5.6M184.15 301.34h5.6M365.73 638.2v-5.6M184.15 275.4h5.6M339.79 638.2v-5.6M184.15 249.46h11M313.85 638.2v-11M184.15 223.52h5.6M287.91 638.2v-5.6M184.15 197.58h5.6M261.97 638.2v-5.6M184.15 171.64h5.6M236.03 638.2v-5.6M184.15 145.7h5.6M210.09 638.2v-5.6M184.15 119.76h11M669.65 106.9v5.6M637.35 106.9v5.6M605.05 106.9v11M572.75 106.9v5.6M540.45 106.9v5.6M508.15 106.9v5.6M475.85 106.9v5.6M443.55 106.9v11M411.25 106.9v5.6M378.95 106.9v5.6M346.65 106.9v5.6M314.35 106.9v5.6M282.05 106.9v11M249.75 106.9v5.6M217.45 106.9v5.6M767 160.03h-5.6M767 213.16h-11M767 266.29h-5.6M767 319.42h-11M767 372.55h-5.6M767 425.68h-11M767 478.81h-5.6M767 531.94h-11M767 585.07h-5.6" stroke="#000" stroke-width="1.9" fill="none"/>
<path d="M184.15 106.9H767V638.2H184.15Z M702.1 106.9V638.2" stroke="#000" stroke-width="1.9" fill="none" stroke-linejoin="miter"/>
</g>
<g>
<rect x="184.15" y="679.9" width="517.95" height="531.3" fill="#A7A9AC"/>
<g clip-path="url(#clipb)" shape-rendering="crispEdges">
<rect x="424.56" y="704.33" width="114.51" height="12.99" fill="#0092D8"/>
<rect x="386.49" y="717.02" width="38.37" height="12.99" fill="#0B62AE"/>
<rect x="424.56" y="717.02" width="152.58" height="12.99" fill="#0092D8"/>
<rect x="361.11" y="729.71" width="63.75" height="12.99" fill="#0B62AE"/>
<rect x="424.56" y="729.71" width="177.96" height="12.99" fill="#0092D8"/>
<rect x="335.73" y="742.4" width="101.82" height="12.99" fill="#0B62AE"/>
<rect x="437.25" y="742.4" width="177.96" height="12.99" fill="#0092D8"/>
<rect x="323.04" y="755.09" width="114.51" height="12.99" fill="#0B62AE"/>
<rect x="437.25" y="755.09" width="190.65" height="12.99" fill="#0092D8"/>
<rect x="310.35" y="767.78" width="101.82" height="12.99" fill="#0B62AE"/>
<rect x="411.87" y="767.78" width="25.68" height="12.99" fill="#0A78C2"/>
<rect x="437.25" y="767.78" width="101.82" height="12.99" fill="#2E3192"/>
<rect x="538.77" y="767.78" width="101.82" height="12.99" fill="#0092D8"/>
<rect x="297.66" y="780.47" width="89.13" height="12.99" fill="#0B62AE"/>
<rect x="386.49" y="780.47" width="51.06" height="12.99" fill="#0A78C2"/>
<rect x="437.25" y="780.47" width="127.2" height="12.99" fill="#2E3192"/>
<rect x="564.15" y="780.47" width="76.44" height="12.99" fill="#0092D8"/>
<rect x="284.97" y="793.16" width="76.44" height="12.99" fill="#0B62AE"/>
<rect x="361.11" y="793.16" width="76.44" height="12.99" fill="#0A78C2"/>
<rect x="437.25" y="793.16" width="12.99" height="12.99" fill="#2E3192"/>
<rect x="449.94" y="793.16" width="38.37" height="12.99" fill="#0D5AA8"/>
<rect x="488.01" y="793.16" width="89.13" height="12.99" fill="#2E3192"/>
<rect x="576.84" y="793.16" width="76.44" height="12.99" fill="#0092D8"/>
<rect x="272.28" y="805.85" width="76.44" height="12.99" fill="#0B62AE"/>
<rect x="348.42" y="805.85" width="63.75" height="12.99" fill="#0A78C2"/>
<rect x="411.87" y="805.85" width="25.68" height="12.99" fill="#2E3B9A"/>
<rect x="437.25" y="805.85" width="89.13" height="12.99" fill="#0D5AA8"/>
<rect x="526.08" y="805.85" width="63.75" height="12.99" fill="#2E3192"/>
<rect x="589.53" y="805.85" width="76.44" height="12.99" fill="#0092D8"/>
<rect x="259.59" y="818.54" width="76.44" height="12.99" fill="#0B62AE"/>
<rect x="335.73" y="818.54" width="51.06" height="12.99" fill="#0A78C2"/>
<rect x="386.49" y="818.54" width="51.06" height="12.99" fill="#2E3B9A"/>
<rect x="437.25" y="818.54" width="25.68" height="12.99" fill="#0A78C2"/>
<rect x="462.63" y="818.54" width="25.68" height="12.99" fill="#2E3192"/>
<rect x="488.01" y="818.54" width="63.75" height="12.99" fill="#0D5AA8"/>
<rect x="551.46" y="818.54" width="51.06" height="12.99" fill="#2E3192"/>
<rect x="602.22" y="818.54" width="63.75" height="12.99" fill="#0092D8"/>
<rect x="259.59" y="831.23" width="63.75" height="12.99" fill="#0B62AE"/>
<rect x="323.04" y="831.23" width="38.37" height="12.99" fill="#0A78C2"/>
<rect x="361.11" y="831.23" width="38.37" height="12.99" fill="#2E3B9A"/>
<rect x="399.18" y="831.23" width="63.75" height="12.99" fill="#0A78C2"/>
<rect x="462.63" y="831.23" width="63.75" height="12.99" fill="#2E3192"/>
<rect x="526.08" y="831.23" width="38.37" height="12.99" fill="#0D5AA8"/>
<rect x="564.15" y="831.23" width="38.37" height="12.99" fill="#2E3192"/>
<rect x="602.22" y="831.23" width="63.75" height="12.99" fill="#0092D8"/>
<rect x="246.9" y="843.92" width="63.75" height="12.99" fill="#0B62AE"/>
<rect x="310.35" y="843.92" width="38.37" height="12.99" fill="#0A78C2"/>
<rect x="348.42" y="843.92" width="38.37" height="12.99" fill="#2E3B9A"/>
<rect x="386.49" y="843.92" width="76.44" height="12.99" fill="#0A78C2"/>
<rect x="462.63" y="843.92" width="51.06" height="12.99" fill="#2E3192"/>
<rect x="513.39" y="843.92" width="25.68" height="12.99" fill="#0072BC"/>
<rect x="538.77" y="843.92" width="25.68" height="12.99" fill="#0D5AA8"/>
<rect x="564.15" y="843.92" width="51.06" height="12.99" fill="#2E3192"/>
<rect x="614.91" y="843.92" width="63.75" height="12.99" fill="#0092D8"/>
<rect x="246.9" y="856.61" width="51.06" height="12.99" fill="#0B62AE"/>
<rect x="297.66" y="856.61" width="51.06" height="12.99" fill="#0A78C2"/>
<rect x="348.42" y="856.61" width="25.68" height="12.99" fill="#2E3B9A"/>
<rect x="373.8" y="856.61" width="51.06" height="12.99" fill="#0072BC"/>
<rect x="424.56" y="856.61" width="51.06" height="12.99" fill="#12B2D0"/>
<rect x="475.32" y="856.61" width="25.68" height="12.99" fill="#2E3192"/>
<rect x="500.7" y="856.61" width="51.06" height="12.99" fill="#0072BC"/>
<rect x="551.46" y="856.61" width="25.68" height="12.99" fill="#0D5AA8"/>
<rect x="576.84" y="856.61" width="38.37" height="12.99" fill="#2E3192"/>
<rect x="614.91" y="856.61" width="63.75" height="12.99" fill="#0092D8"/>
<rect x="234.21" y="869.3" width="63.75" height="12.99" fill="#0B62AE"/>
<rect x="297.66" y="869.3" width="38.37" height="12.99" fill="#0A78C2"/>
<rect x="335.73" y="869.3" width="25.68" height="12.99" fill="#2E3B9A"/>
<rect x="361.11" y="869.3" width="51.06" height="12.99" fill="#0072BC"/>
<rect x="411.87" y="869.3" width="76.44" height="12.99" fill="#12B2D0"/>
<rect x="488.01" y="869.3" width="63.75" height="12.99" fill="#0072BC"/>
<rect x="551.46" y="869.3" width="25.68" height="12.99" fill="#0D5AA8"/>
<rect x="576.84" y="869.3" width="38.37" height="12.99" fill="#2E3192"/>
<rect x="614.91" y="869.3" width="63.75" height="12.99" fill="#0092D8"/>
<rect x="234.21" y="881.99" width="51.06" height="12.99" fill="#0B62AE"/>
<rect x="284.97" y="881.99" width="38.37" height="12.99" fill="#0A78C2"/>
<rect x="323.04" y="881.99" width="38.37" height="12.99" fill="#2E3B9A"/>
<rect x="361.11" y="881.99" width="38.37" height="12.99" fill="#0072BC"/>
<rect x="399.18" y="881.99" width="25.68" height="12.99" fill="#0095DA"/>
<rect x="424.56" y="881.99" width="51.06" height="12.99" fill="#12B2D0"/>
<rect x="475.32" y="881.99" width="25.68" height="12.99" fill="#DDE35A"/>
<rect x="500.7" y="881.99" width="63.75" height="12.99" fill="#0072BC"/>
<rect x="564.15" y="881.99" width="25.68" height="12.99" fill="#0D5AA8"/>
<rect x="589.53" y="881.99" width="25.68" height="12.99" fill="#2E3192"/>
<rect x="614.91" y="881.99" width="63.75" height="12.99" fill="#0092D8"/>
<rect x="221.52" y="894.68" width="63.75" height="12.99" fill="#0B62AE"/>
<rect x="284.97" y="894.68" width="25.68" height="12.99" fill="#0A78C2"/>
<rect x="310.35" y="894.68" width="63.75" height="12.99" fill="#2E3B9A"/>
<rect x="373.8" y="894.68" width="25.68" height="12.99" fill="#00A8E8"/>
<rect x="399.18" y="894.68" width="51.06" height="12.99" fill="#0095DA"/>
<rect x="449.94" y="894.68" width="25.68" height="12.99" fill="#89CC9D"/>
<rect x="475.32" y="894.68" width="25.68" height="12.99" fill="#DDE35A"/>
<rect x="500.7" y="894.68" width="12.99" height="12.99" fill="#0095DA"/>
<rect x="513.39" y="894.68" width="12.99" height="12.99" fill="#0072BC"/>
<rect x="526.08" y="894.68" width="12.99" height="12.99" fill="#00A8E8"/>
<rect x="538.77" y="894.68" width="25.68" height="12.99" fill="#0083CB"/>
<rect x="564.15" y="894.68" width="25.68" height="12.99" fill="#0D5AA8"/>
<rect x="589.53" y="894.68" width="25.68" height="12.99" fill="#2E3192"/>
<rect x="614.91" y="894.68" width="63.75" height="12.99" fill="#0092D8"/>
<rect x="221.52" y="907.37" width="63.75" height="12.99" fill="#0B62AE"/>
<rect x="284.97" y="907.37" width="25.68" height="12.99" fill="#0A78C2"/>
<rect x="310.35" y="907.37" width="76.44" height="12.99" fill="#2E3B9A"/>
<rect x="386.49" y="907.37" width="12.99" height="12.99" fill="#00A8E8"/>
<rect x="399.18" y="907.37" width="12.99" height="12.99" fill="#0095DA"/>
<rect x="411.87" y="907.37" width="25.68" height="12.99" fill="#89CC9D"/>
<rect x="437.25" y="907.37" width="12.99" height="12.99" fill="#FFD60A"/>
<rect x="449.94" y="907.37" width="12.99" height="12.99" fill="#FFF100"/>
<rect x="462.63" y="907.37" width="12.99" height="12.99" fill="#FDB913"/>
<rect x="475.32" y="907.37" width="25.68" height="12.99" fill="#FFF100"/>
<rect x="500.7" y="907.37" width="25.68" height="12.99" fill="#0095DA"/>
<rect x="526.08" y="907.37" width="38.37" height="12.99" fill="#0083CB"/>
<rect x="564.15" y="907.37" width="25.68" height="12.99" fill="#0D5AA8"/>
<rect x="589.53" y="907.37" width="38.37" height="12.99" fill="#2E3192"/>
<rect x="627.6" y="907.37" width="51.06" height="12.99" fill="#0092D8"/>
<rect x="221.52" y="920.06" width="51.06" height="12.99" fill="#0B62AE"/>
<rect x="272.28" y="920.06" width="38.37" height="12.99" fill="#0A78C2"/>
<rect x="310.35" y="920.06" width="63.75" height="12.99" fill="#2E3B9A"/>
<rect x="373.8" y="920.06" width="38.37" height="12.99" fill="#00A8E8"/>
<rect x="411.87" y="920.06" width="12.99" height="12.99" fill="#89CC9D"/>
<rect x="424.56" y="920.06" width="12.99" height="12.99" fill="#FFF100"/>
<rect x="437.25" y="920.06" width="38.37" height="12.99" fill="#F7941D"/>
<rect x="475.32" y="920.06" width="25.68" height="12.99" fill="#FFF100"/>
<rect x="500.7" y="920.06" width="25.68" height="12.99" fill="#0095DA"/>
<rect x="526.08" y="920.06" width="38.37" height="12.99" fill="#0083CB"/>
<rect x="564.15" y="920.06" width="25.68" height="12.99" fill="#0D5AA8"/>
<rect x="589.53" y="920.06" width="25.68" height="12.99" fill="#2E3192"/>
<rect x="614.91" y="920.06" width="12.99" height="12.99" fill="#0092D8"/>
<rect x="627.6" y="920.06" width="51.06" height="12.99" fill="#211A6E"/>
<rect x="221.52" y="932.75" width="51.06" height="12.99" fill="#0B62AE"/>
<rect x="272.28" y="932.75" width="38.37" height="12.99" fill="#0A78C2"/>
<rect x="310.35" y="932.75" width="63.75" height="12.99" fill="#2E3B9A"/>
<rect x="373.8" y="932.75" width="38.37" height="12.99" fill="#00A8E8"/>
<rect x="411.87" y="932.75" width="12.99" height="12.99" fill="#FFD60A"/>
<rect x="424.56" y="932.75" width="12.99" height="12.99" fill="#F7941D"/>
<rect x="437.25" y="932.75" width="25.68" height="12.99" fill="#E31B23"/>
<rect x="462.63" y="932.75" width="12.99" height="12.99" fill="#F7941D"/>
<rect x="475.32" y="932.75" width="12.99" height="12.99" fill="#FFD60A"/>
<rect x="488.01" y="932.75" width="38.37" height="12.99" fill="#0095DA"/>
<rect x="526.08" y="932.75" width="38.37" height="12.99" fill="#0083CB"/>
<rect x="564.15" y="932.75" width="25.68" height="12.99" fill="#0D58A6"/>
<rect x="589.53" y="932.75" width="25.68" height="12.99" fill="#2A2C8A"/>
<rect x="614.91" y="932.75" width="63.75" height="12.99" fill="#211A6E"/>
<rect x="221.52" y="945.44" width="51.06" height="12.99" fill="#0B62AE"/>
<rect x="272.28" y="945.44" width="25.68" height="12.99" fill="#0A78C2"/>
<rect x="297.66" y="945.44" width="38.37" height="12.99" fill="#0094DA"/>
<rect x="335.73" y="945.44" width="38.37" height="12.99" fill="#0095DA"/>
<rect x="373.8" y="945.44" width="38.37" height="12.99" fill="#00A8E8"/>
<rect x="411.87" y="945.44" width="12.99" height="12.99" fill="#FFF100"/>
<rect x="424.56" y="945.44" width="12.99" height="12.99" fill="#F7941D"/>
<rect x="437.25" y="945.44" width="12.99" height="12.99" fill="#E31B23"/>
<rect x="449.94" y="945.44" width="12.99" height="12.99" fill="#C4161C"/>
<rect x="462.63" y="945.44" width="12.99" height="12.99" fill="#F26A21"/>
<rect x="475.32" y="945.44" width="25.68" height="12.99" fill="#B5D98A"/>
<rect x="500.7" y="945.44" width="25.68" height="12.99" fill="#00A8E8"/>
<rect x="526.08" y="945.44" width="38.37" height="12.99" fill="#0083CB"/>
<rect x="564.15" y="945.44" width="12.99" height="12.99" fill="#0D58A6"/>
<rect x="576.84" y="945.44" width="38.37" height="12.99" fill="#2A2C8A"/>
<rect x="614.91" y="945.44" width="63.75" height="12.99" fill="#211A6E"/>
<rect x="208.83" y="958.13" width="63.75" height="12.99" fill="#0A64B0"/>
<rect x="272.28" y="958.13" width="63.75" height="12.99" fill="#0094DA"/>
<rect x="335.73" y="958.13" width="38.37" height="12.99" fill="#0095DA"/>
<rect x="373.8" y="958.13" width="25.68" height="12.99" fill="#00A8E8"/>
<rect x="399.18" y="958.13" width="12.99" height="12.99" fill="#0095DA"/>
<rect x="411.87" y="958.13" width="12.99" height="12.99" fill="#12B2D0"/>
<rect x="424.56" y="958.13" width="12.99" height="12.99" fill="#89CC9D"/>
<rect x="437.25" y="958.13" width="12.99" height="12.99" fill="#FDB913"/>
<rect x="449.94" y="958.13" width="25.68" height="12.99" fill="#F7941D"/>
<rect x="475.32" y="958.13" width="25.68" height="12.99" fill="#12B2D0"/>
<rect x="500.7" y="958.13" width="38.37" height="12.99" fill="#00A8E8"/>
<rect x="538.77" y="958.13" width="12.99" height="12.99" fill="#0083CB"/>
<rect x="551.46" y="958.13" width="25.68" height="12.99" fill="#0D58A6"/>
<rect x="576.84" y="958.13" width="38.37" height="12.99" fill="#2A2C8A"/>
<rect x="614.91" y="958.13" width="51.06" height="12.99" fill="#211A6E"/>
<rect x="208.83" y="970.82" width="63.75" height="12.99" fill="#0A64B0"/>
<rect x="272.28" y="970.82" width="63.75" height="12.99" fill="#0094DA"/>
<rect x="335.73" y="970.82" width="76.44" height="12.99" fill="#0095DA"/>
<rect x="411.87" y="970.82" width="12.99" height="12.99" fill="#0072BC"/>
<rect x="424.56" y="970.82" width="12.99" height="12.99" fill="#00A8E8"/>
<rect x="437.25" y="970.82" width="12.99" height="12.99" fill="#45BCB4"/>
<rect x="449.94" y="970.82" width="25.68" height="12.99" fill="#FFD60A"/>
<rect x="475.32" y="970.82" width="25.68" height="12.99" fill="#12B2D0"/>
<rect x="500.7" y="970.82" width="51.06" height="12.99" fill="#0A78C2"/>
<rect x="551.46" y="970.82" width="25.68" height="12.99" fill="#0D58A6"/>
<rect x="576.84" y="970.82" width="38.37" height="12.99" fill="#2A2C8A"/>
<rect x="614.91" y="970.82" width="51.06" height="12.99" fill="#211A6E"/>
<rect x="208.83" y="983.51" width="63.75" height="12.99" fill="#0A64B0"/>
<rect x="272.28" y="983.51" width="63.75" height="12.99" fill="#0094DA"/>
<rect x="335.73" y="983.51" width="38.37" height="12.99" fill="#0095DA"/>
<rect x="373.8" y="983.51" width="12.99" height="12.99" fill="#45BCB4"/>
<rect x="386.49" y="983.51" width="12.99" height="12.99" fill="#0095DA"/>
<rect x="399.18" y="983.51" width="25.68" height="12.99" fill="#0072BC"/>
<rect x="424.56" y="983.51" width="12.99" height="12.99" fill="#00A8E8"/>
<rect x="437.25" y="983.51" width="12.99" height="12.99" fill="#45BCB4"/>
<rect x="449.94" y="983.51" width="12.99" height="12.99" fill="#12B2D0"/>
<rect x="462.63" y="983.51" width="38.37" height="12.99" fill="#6EC5A2"/>
<rect x="500.7" y="983.51" width="38.37" height="12.99" fill="#0A78C2"/>
<rect x="538.77" y="983.51" width="25.68" height="12.99" fill="#0D58A6"/>
<rect x="564.15" y="983.51" width="38.37" height="12.99" fill="#2A2C8A"/>
<rect x="602.22" y="983.51" width="63.75" height="12.99" fill="#211A6E"/>
<rect x="221.52" y="996.2" width="51.06" height="12.99" fill="#0A64B0"/>
<rect x="272.28" y="996.2" width="63.75" height="12.99" fill="#0094DA"/>
<rect x="335.73" y="996.2" width="12.99" height="12.99" fill="#0095DA"/>
<rect x="348.42" y="996.2" width="51.06" height="12.99" fill="#45BCB4"/>
<rect x="399.18" y="996.2" width="25.68" height="12.99" fill="#0072BC"/>
<rect x="424.56" y="996.2" width="12.99" height="12.99" fill="#00A8E8"/>
<rect x="437.25" y="996.2" width="12.99" height="12.99" fill="#B5D98A"/>
<rect x="449.94" y="996.2" width="25.68" height="12.99" fill="#C8DC74"/>
<rect x="475.32" y="996.2" width="25.68" height="12.99" fill="#6EC5A2"/>
<rect x="500.7" y="996.2" width="38.37" height="12.99" fill="#0A78C2"/>
<rect x="538.77" y="996.2" width="25.68" height="12.99" fill="#0D58A6"/>
<rect x="564.15" y="996.2" width="38.37" height="12.99" fill="#2A2C8A"/>
<rect x="602.22" y="996.2" width="51.06" height="12.99" fill="#211A6E"/>
<rect x="221.52" y="1008.89" width="63.75" height="12.99" fill="#0A64B0"/>
<rect x="284.97" y="1008.89" width="63.75" height="12.99" fill="#0094DA"/>
<rect x="348.42" y="1008.89" width="51.06" height="12.99" fill="#45BCB4"/>
<rect x="399.18" y="1008.89" width="38.37" height="12.99" fill="#2E3192"/>
<rect x="437.25" y="1008.89" width="12.99" height="12.99" fill="#B5D98A"/>
<rect x="449.94" y="1008.89" width="25.68" height="12.99" fill="#C8DC74"/>
<rect x="475.32" y="1008.89" width="25.68" height="12.99" fill="#6EC5A2"/>
<rect x="500.7" y="1008.89" width="25.68" height="12.99" fill="#0A78C2"/>
<rect x="526.08" y="1008.89" width="25.68" height="12.99" fill="#0D58A6"/>
<rect x="551.46" y="1008.89" width="38.37" height="12.99" fill="#2A2C8A"/>
<rect x="589.53" y="1008.89" width="63.75" height="12.99" fill="#211A6E"/>
<rect x="221.52" y="1021.58" width="63.75" height="12.99" fill="#0A64B0"/>
<rect x="284.97" y="1021.58" width="76.44" height="12.99" fill="#0094DA"/>
<rect x="361.11" y="1021.58" width="38.37" height="12.99" fill="#45BCB4"/>
<rect x="399.18" y="1021.58" width="51.06" height="12.99" fill="#2E3192"/>
<rect x="449.94" y="1021.58" width="38.37" height="12.99" fill="#C8DC74"/>
<rect x="488.01" y="1021.58" width="25.68" height="12.99" fill="#6EC5A2"/>
<rect x="513.39" y="1021.58" width="25.68" height="12.99" fill="#0D58A6"/>
<rect x="538.77" y="1021.58" width="51.06" height="12.99" fill="#2A2C8A"/>
<rect x="589.53" y="1021.58" width="63.75" height="12.99" fill="#211A6E"/>
<rect x="221.52" y="1034.27" width="63.75" height="12.99" fill="#0A64B0"/>
<rect x="284.97" y="1034.27" width="89.13" height="12.99" fill="#0094DA"/>
<rect x="373.8" y="1034.27" width="25.68" height="12.99" fill="#45BCB4"/>
<rect x="399.18" y="1034.27" width="51.06" height="12.99" fill="#2E3192"/>
<rect x="449.94" y="1034.27" width="38.37" height="12.99" fill="#C8DC74"/>
<rect x="488.01" y="1034.27" width="38.37" height="12.99" fill="#0D58A6"/>
<rect x="526.08" y="1034.27" width="51.06" height="12.99" fill="#2A2C8A"/>
<rect x="576.84" y="1034.27" width="63.75" height="12.99" fill="#211A6E"/>
<rect x="221.52" y="1046.96" width="76.44" height="12.99" fill="#0A64B0"/>
<rect x="297.66" y="1046.96" width="89.13" height="12.99" fill="#0094DA"/>
<rect x="386.49" y="1046.96" width="76.44" height="12.99" fill="#2E3192"/>
<rect x="462.63" y="1046.96" width="51.06" height="12.99" fill="#0D58A6"/>
<rect x="513.39" y="1046.96" width="51.06" height="12.99" fill="#2A2C8A"/>
<rect x="564.15" y="1046.96" width="63.75" height="12.99" fill="#211A6E"/>
<rect x="234.21" y="1059.65" width="76.44" height="12.99" fill="#0A64B0"/>
<rect x="310.35" y="1059.65" width="152.58" height="12.99" fill="#0094DA"/>
<rect x="462.63" y="1059.65" width="25.68" height="12.99" fill="#0D58A6"/>
<rect x="488.01" y="1059.65" width="63.75" height="12.99" fill="#2A2C8A"/>
<rect x="551.46" y="1059.65" width="76.44" height="12.99" fill="#211A6E"/>
<rect x="234.21" y="1072.34" width="76.44" height="12.99" fill="#0A64B0"/>
<rect x="310.35" y="1072.34" width="152.58" height="12.99" fill="#0094DA"/>
<rect x="462.63" y="1072.34" width="76.44" height="12.99" fill="#2A2C8A"/>
<rect x="538.77" y="1072.34" width="76.44" height="12.99" fill="#211A6E"/>
<rect x="246.9" y="1085.03" width="89.13" height="12.99" fill="#0A64B0"/>
<rect x="335.73" y="1085.03" width="127.2" height="12.99" fill="#0094DA"/>
<rect x="462.63" y="1085.03" width="51.06" height="12.99" fill="#2A2C8A"/>
<rect x="513.39" y="1085.03" width="89.13" height="12.99" fill="#211A6E"/>
<rect x="259.59" y="1097.72" width="89.13" height="12.99" fill="#0A64B0"/>
<rect x="348.42" y="1097.72" width="114.51" height="12.99" fill="#0094DA"/>
<rect x="462.63" y="1097.72" width="25.68" height="12.99" fill="#2A2C8A"/>
<rect x="488.01" y="1097.72" width="101.82" height="12.99" fill="#211A6E"/>
<rect x="259.59" y="1110.41" width="127.2" height="12.99" fill="#0A64B0"/>
<rect x="386.49" y="1110.41" width="63.75" height="12.99" fill="#0094DA"/>
<rect x="449.94" y="1110.41" width="12.99" height="12.99" fill="#0A64B0"/>
<rect x="462.63" y="1110.41" width="114.51" height="12.99" fill="#211A6E"/>
<rect x="272.28" y="1123.1" width="190.65" height="12.99" fill="#0A64B0"/>
<rect x="462.63" y="1123.1" width="89.13" height="12.99" fill="#211A6E"/>
<rect x="297.66" y="1135.79" width="165.27" height="12.99" fill="#0A64B0"/>
<rect x="462.63" y="1135.79" width="76.44" height="12.99" fill="#211A6E"/>
<rect x="310.35" y="1148.48" width="152.58" height="12.99" fill="#0A64B0"/>
<rect x="462.63" y="1148.48" width="51.06" height="12.99" fill="#211A6E"/>
<rect x="335.73" y="1161.17" width="127.2" height="12.99" fill="#0A64B0"/>
<rect x="462.63" y="1161.17" width="12.99" height="12.99" fill="#211A6E"/>
</g>
<g clip-path="url(#cclipb)" transform="translate(184.15,679.9)" fill="none" stroke="#000" stroke-width="5" stroke-linejoin="round">
<path d="M0.5 257.3C1.0 252.9 4.9 249.8 5.8 244.1C6.8 238.3 4.8 228.6 6.4 222.9C7.9 217.2 12.3 213.6 15.1 209.7C17.9 205.7 21.5 203.9 23.0 199.1C24.6 194.2 22.1 185.4 24.3 180.6C26.5 175.7 33.4 174.4 36.2 170.0C39.1 165.6 39.8 160.3 41.5 154.1C43.3 147.9 44.4 139.6 46.8 133.0C49.3 126.3 52.8 120.2 56.1 114.4C59.4 108.7 62.9 103.2 66.7 98.6C70.4 93.9 74.4 89.1 78.6 86.7C82.8 84.2 87.2 86.0 91.8 84.0C96.4 82.0 102.6 77.6 106.4 74.8C110.1 71.9 112.7 70.1 114.3 66.8C115.8 63.5 113.4 59.3 115.6 54.9C117.8 50.5 122.9 43.9 127.5 40.4C132.1 36.8 137.2 36.0 143.4 33.8C149.6 31.5 157.5 29.3 164.6 27.1C171.6 24.9 178.7 23.2 185.7 20.5C192.8 17.9 200.3 13.5 206.9 11.3C213.5 9.1 219.2 9.1 225.4 7.3C231.6 5.5 236.4 1.7 243.9 0.7C251.4 -0.3 261.6 1.6 270.4 1.5C279.2 1.4 288.5 -1.0 296.8 0.2C305.2 1.3 314.0 7.4 320.6 8.6C327.3 9.8 330.8 6.4 336.5 7.3C342.2 8.2 348.9 10.8 355.0 13.9C361.2 17.0 366.9 21.8 373.5 25.8C380.2 29.8 388.1 34.0 394.7 37.7C401.3 41.5 407.1 44.3 413.2 48.3C419.4 52.3 425.6 56.7 431.7 61.5C437.9 66.4 444.5 73.9 450.3 77.4C456.0 80.9 462.0 79.6 466.1 82.7C470.3 85.8 473.2 91.1 475.4 95.9C477.6 100.8 476.9 105.6 479.4 111.8C481.8 118.0 486.4 125.9 489.9 133.0C493.5 140.0 497.0 147.5 500.5 154.1C504.1 160.7 508.7 166.5 511.1 172.6C513.5 178.8 514.2 184.1 515.1 191.2C516.0 198.2 516.0 207.5 516.4 215.0C516.8 222.5 517.8 229.1 517.7 236.1C517.6 243.2 516.5 250.7 515.9 257.3C515.2 263.9 514.6 268.5 513.8 276.0C513.0 283.5 511.3 294.9 511.1 302.4C510.9 309.9 513.5 315.2 512.4 320.9C511.3 326.7 506.7 332.0 504.5 336.8C502.3 341.7 502.1 345.2 499.2 350.0C496.3 354.9 490.2 361.5 487.3 365.9C484.4 370.3 482.9 372.5 482.0 376.5C481.1 380.5 483.3 385.3 482.0 389.7C480.7 394.1 477.2 399.0 474.1 403.0C471.0 406.9 466.6 409.6 463.5 413.5C460.4 417.5 459.1 422.8 455.6 426.8C452.0 430.7 447.2 433.8 442.3 437.3C437.5 440.9 431.7 444.4 426.5 447.9C421.2 451.5 415.0 455.6 410.6 458.5C406.2 461.4 404.0 464.2 400.0 465.1C396.0 466.0 391.6 462.3 386.8 463.8C381.9 465.3 375.8 470.9 370.9 474.4C366.1 477.9 362.1 482.1 357.7 485.0C353.3 487.8 348.4 488.9 344.4 491.6C340.5 494.2 337.8 498.0 333.9 500.8C329.9 503.7 324.6 507.2 320.6 508.8C316.7 510.3 314.5 507.9 310.1 510.1C305.6 512.3 299.5 518.5 294.2 522.0C288.9 525.5 283.2 528.2 278.3 531.3C273.5 534.4 273.5 537.7 265.1 540.5C256.7 543.4 238.6 548.5 228.0 548.5C217.5 548.5 207.8 543.4 201.6 540.5C195.4 537.7 195.4 534.6 191.0 531.3C186.6 528.0 181.3 523.8 175.1 520.7C169.0 517.6 160.4 515.4 154.0 512.7C147.6 510.1 141.2 508.6 136.8 504.8C132.4 501.1 130.4 494.7 127.5 490.3C124.7 485.8 123.5 482.3 119.6 478.4C115.6 474.4 108.6 470.4 103.7 466.4C98.9 462.5 95.3 458.7 90.5 454.5C85.6 450.4 80.3 445.5 74.6 441.3C68.9 437.1 62.0 432.5 56.1 429.4C50.1 426.3 43.3 425.4 38.9 422.8C34.5 420.2 32.3 419.1 29.6 413.5C27.0 408.0 25.0 397.7 23.0 389.7C21.0 381.8 18.4 372.3 17.7 365.9C17.1 359.5 20.8 356.2 19.1 351.4C17.3 346.5 9.6 343.2 7.1 336.8C4.7 330.4 4.5 320.5 4.5 313.0C4.5 305.5 7.4 298.9 7.1 291.8C6.9 284.8 4.3 276.4 3.2 270.7C2.1 264.9 0.1 261.7 0.5 257.3Z"/>
<path d="M270.9 70.7C274.0 70.9 279.4 72.3 284.1 73.6C288.8 74.8 293.8 76.6 299.2 78.3C304.6 80.0 310.5 81.9 316.2 84.0C321.9 86.0 327.9 88.4 333.2 90.6C338.6 92.8 343.0 94.7 348.3 97.2C353.7 99.7 360.0 102.6 365.4 105.7C370.7 108.9 375.4 112.3 380.5 116.1C385.5 119.9 390.9 124.1 395.6 128.4C400.3 132.6 404.7 137.2 408.8 141.6C412.9 146.0 416.7 150.1 420.2 154.9C423.6 159.6 426.9 165.2 429.6 170.0C432.3 174.7 434.5 178.5 436.2 183.2C438.0 187.9 438.9 193.3 440.0 198.3C441.1 203.4 442.1 208.1 442.8 213.4C443.6 218.8 444.6 224.5 444.7 230.5C444.9 236.4 444.3 243.2 443.8 249.4C443.3 255.5 442.8 262.6 441.9 267.1C441.0 271.6 439.1 273.0 438.1 276.4C437.2 279.9 437.2 283.4 436.2 287.8C435.3 292.2 434.0 297.5 432.4 302.9C430.9 308.3 428.8 314.6 426.8 319.9C424.7 325.3 422.5 330.3 420.2 335.0C417.8 339.8 415.8 344.2 412.6 348.3C409.5 352.4 405.4 355.8 401.3 359.6C397.2 363.4 392.4 367.2 388.0 370.9C383.6 374.7 378.9 378.2 374.8 382.3C370.7 386.4 367.6 391.1 363.5 395.5C359.4 399.9 355.0 405.0 350.2 408.7C345.5 412.5 339.8 415.4 335.1 418.2C330.4 421.0 326.3 423.5 321.9 425.8C317.5 428.0 313.4 429.5 308.7 431.4C303.9 433.3 298.6 435.4 293.5 437.1C288.5 438.8 283.2 440.4 278.4 441.8C273.6 443.2 269.9 444.7 265.0 445.6C260.1 446.5 254.3 446.9 249.1 447.5C243.9 448.1 239.0 448.7 234.0 449.4C228.9 450.0 224.2 452.4 218.9 451.3C213.5 450.2 207.2 445.6 201.8 442.8C196.5 439.9 191.8 436.9 186.7 434.3C181.7 431.6 176.3 429.1 171.6 426.7C166.9 424.3 162.5 422.1 158.4 420.1C154.3 418.0 150.8 416.9 147.0 414.4C143.3 411.9 139.5 408.4 135.7 405.0C131.9 401.5 128.1 397.7 124.4 393.6C120.6 389.5 116.2 384.8 113.0 380.4C109.9 376.0 107.5 372.2 105.5 367.2C103.4 362.1 102.3 355.8 100.7 350.2C99.2 344.5 97.4 338.8 96.0 333.1C94.6 327.5 93.5 322.1 92.2 316.1C91.0 310.1 89.4 303.2 88.4 297.2C87.5 291.2 86.2 289.1 86.6 280.2C86.9 271.3 89.2 252.9 90.3 243.7C91.4 234.4 92.1 230.8 93.2 224.8C94.3 218.8 95.5 213.1 96.9 207.8C98.4 202.4 99.6 197.1 101.7 192.7C103.7 188.2 106.4 185.1 109.2 181.3C112.1 177.5 115.5 174.1 118.7 170.0C121.8 165.9 124.7 161.5 128.1 156.7C131.6 152.0 135.7 146.2 139.5 141.6C143.3 137.1 147.0 132.6 150.8 129.3C154.6 126.0 157.7 124.3 162.2 121.8C166.6 119.3 172.2 117.2 177.3 114.2C182.3 111.2 187.0 107.3 192.4 103.8C197.7 100.4 203.4 96.6 209.4 93.4C215.4 90.3 222.0 87.6 228.3 84.9C234.6 82.2 241.1 79.4 247.2 77.4C253.3 75.3 261.0 73.7 265.0 72.6C268.9 71.5 267.7 70.6 270.9 70.7Z"/>
<path d="M267.1 143.5C272.6 142.7 277.2 143.0 282.2 143.5C287.2 144.0 292.3 144.8 297.3 146.3C302.4 147.9 307.4 150.3 312.4 153.0C317.5 155.6 322.8 159.1 327.6 162.4C332.3 165.7 336.4 169.0 340.8 172.8C345.2 176.6 350.2 180.8 354.0 185.1C357.8 189.3 360.6 193.9 363.5 198.3C366.3 202.7 368.8 206.8 371.0 211.6C373.2 216.3 375.3 221.6 376.7 226.7C378.1 231.7 379.1 236.8 379.5 241.8C380.0 246.8 379.8 253.0 379.5 256.9C379.2 260.8 378.7 261.2 377.6 265.1C376.5 269.0 375.0 275.2 372.9 280.2C370.9 285.3 368.2 290.6 365.4 295.3C362.5 300.1 359.4 304.2 355.9 308.6C352.4 313.0 348.7 317.5 344.6 321.8C340.5 326.1 335.7 330.1 331.3 334.1C326.9 338.0 322.8 341.8 318.1 345.4C313.4 349.0 308.0 352.8 303.0 355.8C297.9 358.8 292.9 361.2 287.9 363.4C282.8 365.6 276.6 367.6 272.7 369.1C268.9 370.5 268.9 371.3 265.0 371.9C261.0 372.5 254.3 373.0 249.1 372.8C243.9 372.7 239.0 372.0 234.0 370.9C228.9 369.8 223.6 368.1 218.9 366.2C214.1 364.3 210.0 362.3 205.6 359.6C201.2 356.9 196.5 353.6 192.4 350.2C188.3 346.7 184.5 342.9 181.1 338.8C177.6 334.7 174.4 330.3 171.6 325.6C168.8 320.9 166.1 315.5 164.0 310.5C162.0 305.4 160.6 300.4 159.3 295.3C158.1 290.3 157.1 285.3 156.5 280.2C155.9 275.2 155.5 269.0 155.5 265.1C155.5 261.2 155.7 261.1 156.5 256.9C157.3 252.7 158.7 245.6 160.3 239.9C161.8 234.2 163.7 228.2 165.9 222.9C168.1 217.5 170.8 212.5 173.5 207.8C176.2 203.0 178.8 198.6 182.0 194.5C185.1 190.4 188.5 187.0 192.4 183.2C196.3 179.4 201.2 175.3 205.6 171.9C210.0 168.4 214.1 165.4 218.9 162.4C223.6 159.4 228.9 156.3 234.0 153.9C239.0 151.5 243.6 150.0 249.1 148.2C254.6 146.5 261.6 144.3 267.1 143.5Z"/>
<path d="M267.9 200.9C271.5 201.0 279.5 201.6 283.5 202.5C287.5 203.4 294.6 205.7 298.1 207.7C301.5 209.6 306.5 214.1 309.5 217.1C312.6 220.0 318.8 225.9 321.0 229.6C323.2 233.2 325.2 240.1 326.2 244.1C327.2 248.2 328.6 255.6 328.3 259.8C328.0 263.9 325.9 271.8 324.1 275.4C322.3 279.0 317.4 283.9 314.7 286.9C312.1 289.8 307.2 294.9 304.3 297.3C301.4 299.6 295.8 302.9 292.9 304.6C289.9 306.2 285.2 308.2 282.4 309.8C279.7 311.3 275.4 314.9 272.0 316.0C268.7 317.1 261.5 318.1 257.4 318.1C253.4 318.1 245.4 317.0 241.8 316.0C238.2 315.0 233.3 312.9 230.4 310.8C227.5 308.7 222.6 303.3 219.9 300.4C217.3 297.5 212.7 292.4 210.6 288.9C208.5 285.5 205.4 278.2 204.3 274.4C203.2 270.5 202.1 263.7 202.2 259.8C202.4 255.9 204.0 248.9 205.4 245.2C206.8 241.4 210.4 235.0 212.7 231.6C214.9 228.3 219.4 223.0 222.0 220.2C224.7 217.4 229.4 212.8 232.4 210.8C235.5 208.9 241.8 206.8 244.9 205.6C248.1 204.4 253.4 202.6 256.4 202.0C259.5 201.3 264.3 200.8 267.9 200.9Z"/>
<path d="M267.9 234.8C269.3 234.7 270.7 234.4 272.0 235.0C273.4 235.5 279.7 239.3 281.4 240.5C283.1 241.7 288.1 245.4 289.2 247.3C290.3 249.1 292.3 256.4 292.3 258.7C292.3 261.0 290.3 268.2 289.2 270.2C288.1 272.2 283.1 277.0 281.4 278.5C279.7 280.1 274.2 285.0 272.0 285.8C269.8 286.6 261.8 287.1 259.5 286.9C257.2 286.6 251.0 284.8 249.1 283.7C247.2 282.7 242.2 277.8 240.8 276.4C239.3 275.1 235.3 271.9 234.5 270.2C233.8 268.5 233.1 262.0 233.5 259.8C233.9 257.6 237.3 250.2 238.7 248.3C240.1 246.4 245.2 242.3 247.0 241.0C248.9 239.7 255.4 235.9 257.4 235.3C259.5 234.7 266.4 234.8 267.9 234.8Z"/>
</g>
<rect x="702.1" y="679.9" width="64.9" height="531.3" fill="url(#cm)"/>
<path d="M184.15 1185.62h5.6M677.01 1211.2v-5.6M184.15 1159.68h5.6M651.07 1211.2v-5.6M184.15 1133.74h5.6M625.13 1211.2v-5.6M184.15 1107.8h5.6M599.19 1211.2v-5.6M184.15 1081.86h11M573.25 1211.2v-11M184.15 1055.92h5.6M547.31 1211.2v-5.6M184.15 1029.98h5.6M521.37 1211.2v-5.6M184.15 1004.04h5.6M495.43 1211.2v-5.6M184.15 978.1h5.6M469.49 1211.2v-5.6M184.15 952.16h11M443.55 1211.2v-11M184.15 926.22h5.6M417.61 1211.2v-5.6M184.15 900.28h5.6M391.67 1211.2v-5.6M184.15 874.34h5.6M365.73 1211.2v-5.6M184.15 848.4h5.6M339.79 1211.2v-5.6M184.15 822.46h11M313.85 1211.2v-11M184.15 796.52h5.6M287.91 1211.2v-5.6M184.15 770.58h5.6M261.97 1211.2v-5.6M184.15 744.64h5.6M236.03 1211.2v-5.6M184.15 718.7h5.6M210.09 1211.2v-5.6M184.15 692.76h11M767 733.03h-5.6M767 786.16h-11M767 839.29h-5.6M767 892.42h-11M767 945.55h-5.6M767 998.68h-11M767 1051.81h-5.6M767 1104.94h-11M767 1158.07h-5.6" stroke="#000" stroke-width="1.9" fill="none"/>
<path d="M184.15 679.9H767V1211.2H184.15Z M702.1 679.9V1211.2" stroke="#000" stroke-width="1.9" fill="none" stroke-linejoin="miter"/>
</g>
<g>
<rect x="1265.05" y="106.9" width="517.95" height="531.3" fill="#A7A9AC"/>
<g clip-path="url(#clipc)" shape-rendering="crispEdges">
<rect x="1504.46" y="131.33" width="114.51" height="12.99" fill="#D7DF5A"/>
<rect x="1466.39" y="144.02" width="38.37" height="12.99" fill="#FFC709"/>
<rect x="1504.46" y="144.02" width="152.58" height="12.99" fill="#D7DF5A"/>
<rect x="1441.01" y="156.71" width="63.75" height="12.99" fill="#FFC709"/>
<rect x="1504.46" y="156.71" width="177.96" height="12.99" fill="#D7DF5A"/>
<rect x="1415.63" y="169.4" width="101.82" height="12.99" fill="#FFC709"/>
<rect x="1517.15" y="169.4" width="177.96" height="12.99" fill="#D7DF5A"/>
<rect x="1402.94" y="182.09" width="114.51" height="12.99" fill="#FFC709"/>
<rect x="1517.15" y="182.09" width="190.65" height="12.99" fill="#D7DF5A"/>
<rect x="1390.25" y="194.78" width="101.82" height="12.99" fill="#FFC709"/>
<rect x="1491.77" y="194.78" width="25.68" height="12.99" fill="#F26A21"/>
<rect x="1517.15" y="194.78" width="101.82" height="12.99" fill="#FFE600"/>
<rect x="1618.67" y="194.78" width="101.82" height="12.99" fill="#D7DF5A"/>
<rect x="1377.56" y="207.47" width="89.13" height="12.99" fill="#FFC709"/>
<rect x="1466.39" y="207.47" width="51.06" height="12.99" fill="#F26A21"/>
<rect x="1517.15" y="207.47" width="127.2" height="12.99" fill="#FFE600"/>
<rect x="1644.05" y="207.47" width="76.44" height="12.99" fill="#D7DF5A"/>
<rect x="1364.87" y="220.16" width="76.44" height="12.99" fill="#FFC709"/>
<rect x="1441.01" y="220.16" width="76.44" height="12.99" fill="#F26A21"/>
<rect x="1517.15" y="220.16" width="12.99" height="12.99" fill="#FFE600"/>
<rect x="1529.84" y="220.16" width="38.37" height="12.99" fill="#C8DC74"/>
<rect x="1567.91" y="220.16" width="89.13" height="12.99" fill="#FFE600"/>
<rect x="1656.74" y="220.16" width="76.44" height="12.99" fill="#D7DF5A"/>
<rect x="1352.18" y="232.85" width="76.44" height="12.99" fill="#FFC709"/>
<rect x="1428.32" y="232.85" width="63.75" height="12.99" fill="#F26A21"/>
<rect x="1491.77" y="232.85" width="25.68" height="12.99" fill="#00A3E4"/>
<rect x="1517.15" y="232.85" width="89.13" height="12.99" fill="#C8DC74"/>
<rect x="1605.98" y="232.85" width="63.75" height="12.99" fill="#FFE600"/>
<rect x="1669.43" y="232.85" width="76.44" height="12.99" fill="#D7DF5A"/>
<rect x="1339.49" y="245.54" width="76.44" height="12.99" fill="#FFC709"/>
<rect x="1415.63" y="245.54" width="51.06" height="12.99" fill="#F26A21"/>
<rect x="1466.39" y="245.54" width="51.06" height="12.99" fill="#00A3E4"/>
<rect x="1517.15" y="245.54" width="25.68" height="12.99" fill="#FDB913"/>
<rect x="1542.53" y="245.54" width="25.68" height="12.99" fill="#0083CB"/>
<rect x="1567.91" y="245.54" width="63.75" height="12.99" fill="#C8DC74"/>
<rect x="1631.36" y="245.54" width="51.06" height="12.99" fill="#FFE600"/>
<rect x="1682.12" y="245.54" width="63.75" height="12.99" fill="#D7DF5A"/>
<rect x="1339.49" y="258.23" width="63.75" height="12.99" fill="#FFC709"/>
<rect x="1402.94" y="258.23" width="38.37" height="12.99" fill="#F26A21"/>
<rect x="1441.01" y="258.23" width="38.37" height="12.99" fill="#00A3E4"/>
<rect x="1479.08" y="258.23" width="63.75" height="12.99" fill="#FDB913"/>
<rect x="1542.53" y="258.23" width="63.75" height="12.99" fill="#0083CB"/>
<rect x="1605.98" y="258.23" width="38.37" height="12.99" fill="#C8DC74"/>
<rect x="1644.05" y="258.23" width="38.37" height="12.99" fill="#FFE600"/>
<rect x="1682.12" y="258.23" width="63.75" height="12.99" fill="#D7DF5A"/>
<rect x="1326.8" y="270.92" width="63.75" height="12.99" fill="#FFC709"/>
<rect x="1390.25" y="270.92" width="38.37" height="12.99" fill="#F26A21"/>
<rect x="1428.32" y="270.92" width="38.37" height="12.99" fill="#00A3E4"/>
<rect x="1466.39" y="270.92" width="25.68" height="12.99" fill="#0083CB"/>
<rect x="1491.77" y="270.92" width="51.06" height="12.99" fill="#FDB913"/>
<rect x="1542.53" y="270.92" width="51.06" height="12.99" fill="#0083CB"/>
<rect x="1593.29" y="270.92" width="25.68" height="12.99" fill="#12B2D0"/>
<rect x="1618.67" y="270.92" width="25.68" height="12.99" fill="#C8DC74"/>
<rect x="1644.05" y="270.92" width="51.06" height="12.99" fill="#FFE600"/>
<rect x="1694.81" y="270.92" width="63.75" height="12.99" fill="#D7DF5A"/>
<rect x="1326.8" y="283.61" width="51.06" height="12.99" fill="#FFC709"/>
<rect x="1377.56" y="283.61" width="51.06" height="12.99" fill="#F26A21"/>
<rect x="1428.32" y="283.61" width="25.68" height="12.99" fill="#00A3E4"/>
<rect x="1453.7" y="283.61" width="38.37" height="12.99" fill="#0083CB"/>
<rect x="1491.77" y="283.61" width="12.99" height="12.99" fill="#FDB913"/>
<rect x="1504.46" y="283.61" width="25.68" height="12.99" fill="#FFD60A"/>
<rect x="1529.84" y="283.61" width="25.68" height="12.99" fill="#45BCB4"/>
<rect x="1555.22" y="283.61" width="25.68" height="12.99" fill="#0083CB"/>
<rect x="1580.6" y="283.61" width="51.06" height="12.99" fill="#12B2D0"/>
<rect x="1631.36" y="283.61" width="25.68" height="12.99" fill="#C8DC74"/>
<rect x="1656.74" y="283.61" width="38.37" height="12.99" fill="#FFE600"/>
<rect x="1694.81" y="283.61" width="63.75" height="12.99" fill="#D7DF5A"/>
<rect x="1314.11" y="296.3" width="63.75" height="12.99" fill="#FFC709"/>
<rect x="1377.56" y="296.3" width="38.37" height="12.99" fill="#F26A21"/>
<rect x="1415.63" y="296.3" width="25.68" height="12.99" fill="#00A3E4"/>
<rect x="1441.01" y="296.3" width="51.06" height="12.99" fill="#0083CB"/>
<rect x="1491.77" y="296.3" width="38.37" height="12.99" fill="#FFD60A"/>
<rect x="1529.84" y="296.3" width="38.37" height="12.99" fill="#45BCB4"/>
<rect x="1567.91" y="296.3" width="63.75" height="12.99" fill="#12B2D0"/>
<rect x="1631.36" y="296.3" width="25.68" height="12.99" fill="#C8DC74"/>
<rect x="1656.74" y="296.3" width="38.37" height="12.99" fill="#FFE600"/>
<rect x="1694.81" y="296.3" width="63.75" height="12.99" fill="#D7DF5A"/>
<rect x="1314.11" y="308.99" width="51.06" height="12.99" fill="#FFC709"/>
<rect x="1364.87" y="308.99" width="38.37" height="12.99" fill="#F26A21"/>
<rect x="1402.94" y="308.99" width="38.37" height="12.99" fill="#00A3E4"/>
<rect x="1441.01" y="308.99" width="38.37" height="12.99" fill="#0083CB"/>
<rect x="1479.08" y="308.99" width="25.68" height="12.99" fill="#00A8E8"/>
<rect x="1504.46" y="308.99" width="25.68" height="12.99" fill="#FFD60A"/>
<rect x="1529.84" y="308.99" width="25.68" height="12.99" fill="#45BCB4"/>
<rect x="1555.22" y="308.99" width="25.68" height="12.99" fill="#89CC9D"/>
<rect x="1580.6" y="308.99" width="63.75" height="12.99" fill="#12B2D0"/>
<rect x="1644.05" y="308.99" width="25.68" height="12.99" fill="#C8DC74"/>
<rect x="1669.43" y="308.99" width="25.68" height="12.99" fill="#FFE600"/>
<rect x="1694.81" y="308.99" width="63.75" height="12.99" fill="#D7DF5A"/>
<rect x="1301.42" y="321.68" width="63.75" height="12.99" fill="#FFC709"/>
<rect x="1364.87" y="321.68" width="25.68" height="12.99" fill="#F26A21"/>
<rect x="1390.25" y="321.68" width="51.06" height="12.99" fill="#00A3E4"/>
<rect x="1441.01" y="321.68" width="12.99" height="12.99" fill="#0083CB"/>
<rect x="1453.7" y="321.68" width="25.68" height="12.99" fill="#12B2D0"/>
<rect x="1479.08" y="321.68" width="25.68" height="12.99" fill="#00A8E8"/>
<rect x="1504.46" y="321.68" width="25.68" height="12.99" fill="#F26A21"/>
<rect x="1529.84" y="321.68" width="25.68" height="12.99" fill="#DDE35A"/>
<rect x="1555.22" y="321.68" width="38.37" height="12.99" fill="#89CC9D"/>
<rect x="1593.29" y="321.68" width="12.99" height="12.99" fill="#12B2D0"/>
<rect x="1605.98" y="321.68" width="12.99" height="12.99" fill="#6EC5A2"/>
<rect x="1618.67" y="321.68" width="25.68" height="12.99" fill="#89CC9D"/>
<rect x="1644.05" y="321.68" width="25.68" height="12.99" fill="#C8DC74"/>
<rect x="1669.43" y="321.68" width="25.68" height="12.99" fill="#FFE600"/>
<rect x="1694.81" y="321.68" width="63.75" height="12.99" fill="#D7DF5A"/>
<rect x="1301.42" y="334.37" width="63.75" height="12.99" fill="#FFC709"/>
<rect x="1364.87" y="334.37" width="25.68" height="12.99" fill="#F26A21"/>
<rect x="1390.25" y="334.37" width="38.37" height="12.99" fill="#00A3E4"/>
<rect x="1428.32" y="334.37" width="25.68" height="12.99" fill="#0083CB"/>
<rect x="1453.7" y="334.37" width="12.99" height="12.99" fill="#0095DA"/>
<rect x="1466.39" y="334.37" width="12.99" height="12.99" fill="#12B2D0"/>
<rect x="1479.08" y="334.37" width="25.68" height="12.99" fill="#00A8E8"/>
<rect x="1504.46" y="334.37" width="12.99" height="12.99" fill="#B5D98A"/>
<rect x="1517.15" y="334.37" width="25.68" height="12.99" fill="#12B2D0"/>
<rect x="1542.53" y="334.37" width="12.99" height="12.99" fill="#89CC9D"/>
<rect x="1555.22" y="334.37" width="25.68" height="12.99" fill="#FFD60A"/>
<rect x="1580.6" y="334.37" width="25.68" height="12.99" fill="#6EC5A2"/>
<rect x="1605.98" y="334.37" width="38.37" height="12.99" fill="#89CC9D"/>
<rect x="1644.05" y="334.37" width="25.68" height="12.99" fill="#C8DC74"/>
<rect x="1669.43" y="334.37" width="38.37" height="12.99" fill="#FFE600"/>
<rect x="1707.5" y="334.37" width="51.06" height="12.99" fill="#D7DF5A"/>
<rect x="1301.42" y="347.06" width="51.06" height="12.99" fill="#FFC709"/>
<rect x="1352.18" y="347.06" width="38.37" height="12.99" fill="#F26A21"/>
<rect x="1390.25" y="347.06" width="38.37" height="12.99" fill="#00A3E4"/>
<rect x="1428.32" y="347.06" width="25.68" height="12.99" fill="#0083CB"/>
<rect x="1453.7" y="347.06" width="25.68" height="12.99" fill="#C8DC74"/>
<rect x="1479.08" y="347.06" width="25.68" height="12.99" fill="#12B2D0"/>
<rect x="1504.46" y="347.06" width="12.99" height="12.99" fill="#FFF100"/>
<rect x="1517.15" y="347.06" width="12.99" height="12.99" fill="#6EC5A2"/>
<rect x="1529.84" y="347.06" width="25.68" height="12.99" fill="#B5D98A"/>
<rect x="1555.22" y="347.06" width="25.68" height="12.99" fill="#C8DC74"/>
<rect x="1580.6" y="347.06" width="25.68" height="12.99" fill="#6EC5A2"/>
<rect x="1605.98" y="347.06" width="38.37" height="12.99" fill="#89CC9D"/>
<rect x="1644.05" y="347.06" width="25.68" height="12.99" fill="#C8DC74"/>
<rect x="1669.43" y="347.06" width="25.68" height="12.99" fill="#FFE600"/>
<rect x="1694.81" y="347.06" width="12.99" height="12.99" fill="#D7DF5A"/>
<rect x="1707.5" y="347.06" width="51.06" height="12.99" fill="#83CC9B"/>
<rect x="1301.42" y="359.75" width="51.06" height="12.99" fill="#FFC709"/>
<rect x="1352.18" y="359.75" width="38.37" height="12.99" fill="#F26A21"/>
<rect x="1390.25" y="359.75" width="38.37" height="12.99" fill="#00A3E4"/>
<rect x="1428.32" y="359.75" width="25.68" height="12.99" fill="#0083CB"/>
<rect x="1453.7" y="359.75" width="38.37" height="12.99" fill="#C8DC74"/>
<rect x="1491.77" y="359.75" width="12.99" height="12.99" fill="#12B2D0"/>
<rect x="1504.46" y="359.75" width="12.99" height="12.99" fill="#6EC5A2"/>
<rect x="1517.15" y="359.75" width="12.99" height="12.99" fill="#0095DA"/>
<rect x="1529.84" y="359.75" width="12.99" height="12.99" fill="#12B2D0"/>
<rect x="1542.53" y="359.75" width="12.99" height="12.99" fill="#FFF100"/>
<rect x="1555.22" y="359.75" width="12.99" height="12.99" fill="#FDB913"/>
<rect x="1567.91" y="359.75" width="25.68" height="12.99" fill="#89CC9D"/>
<rect x="1593.29" y="359.75" width="12.99" height="12.99" fill="#6EC5A2"/>
<rect x="1605.98" y="359.75" width="38.37" height="12.99" fill="#89CC9D"/>
<rect x="1644.05" y="359.75" width="25.68" height="12.99" fill="#0AB0D8"/>
<rect x="1669.43" y="359.75" width="25.68" height="12.99" fill="#F15A22"/>
<rect x="1694.81" y="359.75" width="63.75" height="12.99" fill="#83CC9B"/>
<rect x="1301.42" y="372.44" width="51.06" height="12.99" fill="#FFC709"/>
<rect x="1352.18" y="372.44" width="25.68" height="12.99" fill="#F26A21"/>
<rect x="1377.56" y="372.44" width="12.99" height="12.99" fill="#0095DA"/>
<rect x="1390.25" y="372.44" width="25.68" height="12.99" fill="#2E3192"/>
<rect x="1415.63" y="372.44" width="38.37" height="12.99" fill="#0083CB"/>
<rect x="1453.7" y="372.44" width="38.37" height="12.99" fill="#C8DC74"/>
<rect x="1491.77" y="372.44" width="12.99" height="12.99" fill="#2E3192"/>
<rect x="1504.46" y="372.44" width="12.99" height="12.99" fill="#0072BC"/>
<rect x="1517.15" y="372.44" width="12.99" height="12.99" fill="#12B2D0"/>
<rect x="1529.84" y="372.44" width="12.99" height="12.99" fill="#45BCB4"/>
<rect x="1542.53" y="372.44" width="12.99" height="12.99" fill="#89CC9D"/>
<rect x="1555.22" y="372.44" width="25.68" height="12.99" fill="#12B2D0"/>
<rect x="1580.6" y="372.44" width="25.68" height="12.99" fill="#B5D98A"/>
<rect x="1605.98" y="372.44" width="38.37" height="12.99" fill="#89CC9D"/>
<rect x="1644.05" y="372.44" width="12.99" height="12.99" fill="#0AB0D8"/>
<rect x="1656.74" y="372.44" width="38.37" height="12.99" fill="#F15A22"/>
<rect x="1694.81" y="372.44" width="63.75" height="12.99" fill="#83CC9B"/>
<rect x="1288.73" y="385.13" width="63.75" height="12.99" fill="#79C7A2"/>
<rect x="1352.18" y="385.13" width="38.37" height="12.99" fill="#0095DA"/>
<rect x="1390.25" y="385.13" width="25.68" height="12.99" fill="#2E3192"/>
<rect x="1415.63" y="385.13" width="38.37" height="12.99" fill="#0083CB"/>
<rect x="1453.7" y="385.13" width="25.68" height="12.99" fill="#C8DC74"/>
<rect x="1479.08" y="385.13" width="12.99" height="12.99" fill="#00A8E8"/>
<rect x="1491.77" y="385.13" width="12.99" height="12.99" fill="#2E3192"/>
<rect x="1504.46" y="385.13" width="25.68" height="12.99" fill="#0072BC"/>
<rect x="1529.84" y="385.13" width="25.68" height="12.99" fill="#89CC9D"/>
<rect x="1555.22" y="385.13" width="25.68" height="12.99" fill="#DDE35A"/>
<rect x="1580.6" y="385.13" width="38.37" height="12.99" fill="#B5D98A"/>
<rect x="1618.67" y="385.13" width="12.99" height="12.99" fill="#89CC9D"/>
<rect x="1631.36" y="385.13" width="25.68" height="12.99" fill="#0AB0D8"/>
<rect x="1656.74" y="385.13" width="38.37" height="12.99" fill="#F15A22"/>
<rect x="1694.81" y="385.13" width="51.06" height="12.99" fill="#83CC9B"/>
<rect x="1288.73" y="397.82" width="63.75" height="12.99" fill="#79C7A2"/>
<rect x="1352.18" y="397.82" width="38.37" height="12.99" fill="#0095DA"/>
<rect x="1390.25" y="397.82" width="25.68" height="12.99" fill="#2E3192"/>
<rect x="1415.63" y="397.82" width="38.37" height="12.99" fill="#0083CB"/>
<rect x="1453.7" y="397.82" width="51.06" height="12.99" fill="#00A8E8"/>
<rect x="1504.46" y="397.82" width="12.99" height="12.99" fill="#2E3192"/>
<rect x="1517.15" y="397.82" width="12.99" height="12.99" fill="#0072BC"/>
<rect x="1529.84" y="397.82" width="25.68" height="12.99" fill="#0083CB"/>
<rect x="1555.22" y="397.82" width="25.68" height="12.99" fill="#DDE35A"/>
<rect x="1580.6" y="397.82" width="51.06" height="12.99" fill="#89CC9D"/>
<rect x="1631.36" y="397.82" width="25.68" height="12.99" fill="#0AB0D8"/>
<rect x="1656.74" y="397.82" width="38.37" height="12.99" fill="#F15A22"/>
<rect x="1694.81" y="397.82" width="51.06" height="12.99" fill="#83CC9B"/>
<rect x="1288.73" y="410.51" width="63.75" height="12.99" fill="#79C7A2"/>
<rect x="1352.18" y="410.51" width="38.37" height="12.99" fill="#0095DA"/>
<rect x="1390.25" y="410.51" width="25.68" height="12.99" fill="#2E3192"/>
<rect x="1415.63" y="410.51" width="38.37" height="12.99" fill="#0083CB"/>
<rect x="1453.7" y="410.51" width="12.99" height="12.99" fill="#2E3192"/>
<rect x="1466.39" y="410.51" width="38.37" height="12.99" fill="#00A8E8"/>
<rect x="1504.46" y="410.51" width="12.99" height="12.99" fill="#2E3192"/>
<rect x="1517.15" y="410.51" width="12.99" height="12.99" fill="#0072BC"/>
<rect x="1529.84" y="410.51" width="12.99" height="12.99" fill="#0D5AA8"/>
<rect x="1542.53" y="410.51" width="38.37" height="12.99" fill="#00A8E8"/>
<rect x="1580.6" y="410.51" width="38.37" height="12.99" fill="#89CC9D"/>
<rect x="1618.67" y="410.51" width="25.68" height="12.99" fill="#0AB0D8"/>
<rect x="1644.05" y="410.51" width="38.37" height="12.99" fill="#F15A22"/>
<rect x="1682.12" y="410.51" width="63.75" height="12.99" fill="#83CC9B"/>
<rect x="1301.42" y="423.2" width="51.06" height="12.99" fill="#79C7A2"/>
<rect x="1352.18" y="423.2" width="38.37" height="12.99" fill="#0095DA"/>
<rect x="1390.25" y="423.2" width="25.68" height="12.99" fill="#2E3192"/>
<rect x="1415.63" y="423.2" width="12.99" height="12.99" fill="#0095DA"/>
<rect x="1428.32" y="423.2" width="51.06" height="12.99" fill="#2E3192"/>
<rect x="1479.08" y="423.2" width="25.68" height="12.99" fill="#00A8E8"/>
<rect x="1504.46" y="423.2" width="12.99" height="12.99" fill="#2E3192"/>
<rect x="1517.15" y="423.2" width="38.37" height="12.99" fill="#0D5AA8"/>
<rect x="1555.22" y="423.2" width="25.68" height="12.99" fill="#00A8E8"/>
<rect x="1580.6" y="423.2" width="38.37" height="12.99" fill="#89CC9D"/>
<rect x="1618.67" y="423.2" width="25.68" height="12.99" fill="#0AB0D8"/>
<rect x="1644.05" y="423.2" width="38.37" height="12.99" fill="#F15A22"/>
<rect x="1682.12" y="423.2" width="51.06" height="12.99" fill="#83CC9B"/>
<rect x="1301.42" y="435.89" width="63.75" height="12.99" fill="#79C7A2"/>
<rect x="1364.87" y="435.89" width="38.37" height="12.99" fill="#0095DA"/>
<rect x="1402.94" y="435.89" width="76.44" height="12.99" fill="#2E3192"/>
<rect x="1479.08" y="435.89" width="38.37" height="12.99" fill="#0083CB"/>
<rect x="1517.15" y="435.89" width="38.37" height="12.99" fill="#0D5AA8"/>
<rect x="1555.22" y="435.89" width="25.68" height="12.99" fill="#00A8E8"/>
<rect x="1580.6" y="435.89" width="25.68" height="12.99" fill="#89CC9D"/>
<rect x="1605.98" y="435.89" width="25.68" height="12.99" fill="#0AB0D8"/>
<rect x="1631.36" y="435.89" width="38.37" height="12.99" fill="#F15A22"/>
<rect x="1669.43" y="435.89" width="63.75" height="12.99" fill="#83CC9B"/>
<rect x="1301.42" y="448.58" width="63.75" height="12.99" fill="#79C7A2"/>
<rect x="1364.87" y="448.58" width="38.37" height="12.99" fill="#0095DA"/>
<rect x="1402.94" y="448.58" width="76.44" height="12.99" fill="#2E3192"/>
<rect x="1479.08" y="448.58" width="51.06" height="12.99" fill="#0083CB"/>
<rect x="1529.84" y="448.58" width="38.37" height="12.99" fill="#0D5AA8"/>
<rect x="1567.91" y="448.58" width="51.06" height="12.99" fill="#0AB0D8"/>
<rect x="1618.67" y="448.58" width="51.06" height="12.99" fill="#F15A22"/>
<rect x="1669.43" y="448.58" width="63.75" height="12.99" fill="#83CC9B"/>
<rect x="1301.42" y="461.27" width="63.75" height="12.99" fill="#79C7A2"/>
<rect x="1364.87" y="461.27" width="51.06" height="12.99" fill="#0095DA"/>
<rect x="1415.63" y="461.27" width="63.75" height="12.99" fill="#2E3192"/>
<rect x="1479.08" y="461.27" width="51.06" height="12.99" fill="#0083CB"/>
<rect x="1529.84" y="461.27" width="38.37" height="12.99" fill="#0D5AA8"/>
<rect x="1567.91" y="461.27" width="38.37" height="12.99" fill="#0AB0D8"/>
<rect x="1605.98" y="461.27" width="51.06" height="12.99" fill="#F15A22"/>
<rect x="1656.74" y="461.27" width="63.75" height="12.99" fill="#83CC9B"/>
<rect x="1301.42" y="473.96" width="76.44" height="12.99" fill="#79C7A2"/>
<rect x="1377.56" y="473.96" width="51.06" height="12.99" fill="#0095DA"/>
<rect x="1428.32" y="473.96" width="38.37" height="12.99" fill="#2E3192"/>
<rect x="1466.39" y="473.96" width="63.75" height="12.99" fill="#0083CB"/>
<rect x="1529.84" y="473.96" width="12.99" height="12.99" fill="#2E3192"/>
<rect x="1542.53" y="473.96" width="51.06" height="12.99" fill="#0AB0D8"/>
<rect x="1593.29" y="473.96" width="51.06" height="12.99" fill="#F15A22"/>
<rect x="1644.05" y="473.96" width="63.75" height="12.99" fill="#83CC9B"/>
<rect x="1314.11" y="486.65" width="76.44" height="12.99" fill="#79C7A2"/>
<rect x="1390.25" y="486.65" width="51.06" height="12.99" fill="#0095DA"/>
<rect x="1441.01" y="486.65" width="101.82" height="12.99" fill="#2E3192"/>
<rect x="1542.53" y="486.65" width="25.68" height="12.99" fill="#0AB0D8"/>
<rect x="1567.91" y="486.65" width="63.75" height="12.99" fill="#F15A22"/>
<rect x="1631.36" y="486.65" width="76.44" height="12.99" fill="#83CC9B"/>
<rect x="1314.11" y="499.34" width="76.44" height="12.99" fill="#79C7A2"/>
<rect x="1390.25" y="499.34" width="76.44" height="12.99" fill="#0095DA"/>
<rect x="1466.39" y="499.34" width="76.44" height="12.99" fill="#2E3192"/>
<rect x="1542.53" y="499.34" width="76.44" height="12.99" fill="#F15A22"/>
<rect x="1618.67" y="499.34" width="76.44" height="12.99" fill="#83CC9B"/>
<rect x="1326.8" y="512.03" width="89.13" height="12.99" fill="#79C7A2"/>
<rect x="1415.63" y="512.03" width="127.2" height="12.99" fill="#0095DA"/>
<rect x="1542.53" y="512.03" width="51.06" height="12.99" fill="#F15A22"/>
<rect x="1593.29" y="512.03" width="89.13" height="12.99" fill="#83CC9B"/>
<rect x="1339.49" y="524.72" width="89.13" height="12.99" fill="#79C7A2"/>
<rect x="1428.32" y="524.72" width="114.51" height="12.99" fill="#0095DA"/>
<rect x="1542.53" y="524.72" width="25.68" height="12.99" fill="#F15A22"/>
<rect x="1567.91" y="524.72" width="101.82" height="12.99" fill="#83CC9B"/>
<rect x="1339.49" y="537.41" width="127.2" height="12.99" fill="#79C7A2"/>
<rect x="1466.39" y="537.41" width="63.75" height="12.99" fill="#0095DA"/>
<rect x="1529.84" y="537.41" width="12.99" height="12.99" fill="#79C7A2"/>
<rect x="1542.53" y="537.41" width="114.51" height="12.99" fill="#83CC9B"/>
<rect x="1352.18" y="550.1" width="190.65" height="12.99" fill="#79C7A2"/>
<rect x="1542.53" y="550.1" width="89.13" height="12.99" fill="#83CC9B"/>
<rect x="1377.56" y="562.79" width="165.27" height="12.99" fill="#79C7A2"/>
<rect x="1542.53" y="562.79" width="76.44" height="12.99" fill="#83CC9B"/>
<rect x="1390.25" y="575.48" width="152.58" height="12.99" fill="#79C7A2"/>
<rect x="1542.53" y="575.48" width="51.06" height="12.99" fill="#83CC9B"/>
<rect x="1415.63" y="588.17" width="127.2" height="12.99" fill="#79C7A2"/>
<rect x="1542.53" y="588.17" width="12.99" height="12.99" fill="#83CC9B"/>
</g>
<g clip-path="url(#cclipc)" transform="translate(1265.05,106.9)" fill="none" stroke="#000" stroke-width="5" stroke-linejoin="round">
<path d="M0.5 257.3C1.0 252.9 4.9 249.8 5.8 244.1C6.8 238.3 4.8 228.6 6.4 222.9C7.9 217.2 12.3 213.6 15.1 209.7C17.9 205.7 21.5 203.9 23.0 199.1C24.6 194.2 22.1 185.4 24.3 180.6C26.5 175.7 33.4 174.4 36.2 170.0C39.1 165.6 39.8 160.3 41.5 154.1C43.3 147.9 44.4 139.6 46.8 133.0C49.3 126.3 52.8 120.2 56.1 114.4C59.4 108.7 62.9 103.2 66.7 98.6C70.4 93.9 74.4 89.1 78.6 86.7C82.8 84.2 87.2 86.0 91.8 84.0C96.4 82.0 102.6 77.6 106.4 74.8C110.1 71.9 112.7 70.1 114.3 66.8C115.8 63.5 113.4 59.3 115.6 54.9C117.8 50.5 122.9 43.9 127.5 40.4C132.1 36.8 137.2 36.0 143.4 33.8C149.6 31.5 157.5 29.3 164.6 27.1C171.6 24.9 178.7 23.2 185.7 20.5C192.8 17.9 200.3 13.5 206.9 11.3C213.5 9.1 219.2 9.1 225.4 7.3C231.6 5.5 236.4 1.7 243.9 0.7C251.4 -0.3 261.6 1.6 270.4 1.5C279.2 1.4 288.5 -1.0 296.8 0.2C305.2 1.3 314.0 7.4 320.6 8.6C327.3 9.8 330.8 6.4 336.5 7.3C342.2 8.2 348.9 10.8 355.0 13.9C361.2 17.0 366.9 21.8 373.5 25.8C380.2 29.8 388.1 34.0 394.7 37.7C401.3 41.5 407.1 44.3 413.2 48.3C419.4 52.3 425.6 56.7 431.7 61.5C437.9 66.4 444.5 73.9 450.3 77.4C456.0 80.9 462.0 79.6 466.1 82.7C470.3 85.8 473.2 91.1 475.4 95.9C477.6 100.8 476.9 105.6 479.4 111.8C481.8 118.0 486.4 125.9 489.9 133.0C493.5 140.0 497.0 147.5 500.5 154.1C504.1 160.7 508.7 166.5 511.1 172.6C513.5 178.8 514.2 184.1 515.1 191.2C516.0 198.2 516.0 207.5 516.4 215.0C516.8 222.5 517.8 229.1 517.7 236.1C517.6 243.2 516.5 250.7 515.9 257.3C515.2 263.9 514.6 268.5 513.8 276.0C513.0 283.5 511.3 294.9 511.1 302.4C510.9 309.9 513.5 315.2 512.4 320.9C511.3 326.7 506.7 332.0 504.5 336.8C502.3 341.7 502.1 345.2 499.2 350.0C496.3 354.9 490.2 361.5 487.3 365.9C484.4 370.3 482.9 372.5 482.0 376.5C481.1 380.5 483.3 385.3 482.0 389.7C480.7 394.1 477.2 399.0 474.1 403.0C471.0 406.9 466.6 409.6 463.5 413.5C460.4 417.5 459.1 422.8 455.6 426.8C452.0 430.7 447.2 433.8 442.3 437.3C437.5 440.9 431.7 444.4 426.5 447.9C421.2 451.5 415.0 455.6 410.6 458.5C406.2 461.4 404.0 464.2 400.0 465.1C396.0 466.0 391.6 462.3 386.8 463.8C381.9 465.3 375.8 470.9 370.9 474.4C366.1 477.9 362.1 482.1 357.7 485.0C353.3 487.8 348.4 488.9 344.4 491.6C340.5 494.2 337.8 498.0 333.9 500.8C329.9 503.7 324.6 507.2 320.6 508.8C316.7 510.3 314.5 507.9 310.1 510.1C305.6 512.3 299.5 518.5 294.2 522.0C288.9 525.5 283.2 528.2 278.3 531.3C273.5 534.4 273.5 537.7 265.1 540.5C256.7 543.4 238.6 548.5 228.0 548.5C217.5 548.5 207.8 543.4 201.6 540.5C195.4 537.7 195.4 534.6 191.0 531.3C186.6 528.0 181.3 523.8 175.1 520.7C169.0 517.6 160.4 515.4 154.0 512.7C147.6 510.1 141.2 508.6 136.8 504.8C132.4 501.1 130.4 494.7 127.5 490.3C124.7 485.8 123.5 482.3 119.6 478.4C115.6 474.4 108.6 470.4 103.7 466.4C98.9 462.5 95.3 458.7 90.5 454.5C85.6 450.4 80.3 445.5 74.6 441.3C68.9 437.1 62.0 432.5 56.1 429.4C50.1 426.3 43.3 425.4 38.9 422.8C34.5 420.2 32.3 419.1 29.6 413.5C27.0 408.0 25.0 397.7 23.0 389.7C21.0 381.8 18.4 372.3 17.7 365.9C17.1 359.5 20.8 356.2 19.1 351.4C17.3 346.5 9.6 343.2 7.1 336.8C4.7 330.4 4.5 320.5 4.5 313.0C4.5 305.5 7.4 298.9 7.1 291.8C6.9 284.8 4.3 276.4 3.2 270.7C2.1 264.9 0.1 261.7 0.5 257.3Z"/>
<path d="M270.9 70.7C274.0 70.9 279.4 72.3 284.1 73.6C288.8 74.8 293.8 76.6 299.2 78.3C304.6 80.0 310.5 81.9 316.2 84.0C321.9 86.0 327.9 88.4 333.2 90.6C338.6 92.8 343.0 94.7 348.3 97.2C353.7 99.7 360.0 102.6 365.4 105.7C370.7 108.9 375.4 112.3 380.5 116.1C385.5 119.9 390.9 124.1 395.6 128.4C400.3 132.6 404.7 137.2 408.8 141.6C412.9 146.0 416.7 150.1 420.2 154.9C423.6 159.6 426.9 165.2 429.6 170.0C432.3 174.7 434.5 178.5 436.2 183.2C438.0 187.9 438.9 193.3 440.0 198.3C441.1 203.4 442.1 208.1 442.8 213.4C443.6 218.8 444.6 224.5 444.7 230.5C444.9 236.4 444.3 243.2 443.8 249.4C443.3 255.5 442.8 262.6 441.9 267.1C441.0 271.6 439.1 273.0 438.1 276.4C437.2 279.9 437.2 283.4 436.2 287.8C435.3 292.2 434.0 297.5 432.4 302.9C430.9 308.3 428.8 314.6 426.8 319.9C424.7 325.3 422.5 330.3 420.2 335.0C417.8 339.8 415.8 344.2 412.6 348.3C409.5 352.4 405.4 355.8 401.3 359.6C397.2 363.4 392.4 367.2 388.0 370.9C383.6 374.7 378.9 378.2 374.8 382.3C370.7 386.4 367.6 391.1 363.5 395.5C359.4 399.9 355.0 405.0 350.2 408.7C345.5 412.5 339.8 415.4 335.1 418.2C330.4 421.0 326.3 423.5 321.9 425.8C317.5 428.0 313.4 429.5 308.7 431.4C303.9 433.3 298.6 435.4 293.5 437.1C288.5 438.8 283.2 440.4 278.4 441.8C273.6 443.2 269.9 444.7 265.0 445.6C260.1 446.5 254.3 446.9 249.1 447.5C243.9 448.1 239.0 448.7 234.0 449.4C228.9 450.0 224.2 452.4 218.9 451.3C213.5 450.2 207.2 445.6 201.8 442.8C196.5 439.9 191.8 436.9 186.7 434.3C181.7 431.6 176.3 429.1 171.6 426.7C166.9 424.3 162.5 422.1 158.4 420.1C154.3 418.0 150.8 416.9 147.0 414.4C143.3 411.9 139.5 408.4 135.7 405.0C131.9 401.5 128.1 397.7 124.4 393.6C120.6 389.5 116.2 384.8 113.0 380.4C109.9 376.0 107.5 372.2 105.5 367.2C103.4 362.1 102.3 355.8 100.7 350.2C99.2 344.5 97.4 338.8 96.0 333.1C94.6 327.5 93.5 322.1 92.2 316.1C91.0 310.1 89.4 303.2 88.4 297.2C87.5 291.2 86.2 289.1 86.6 280.2C86.9 271.3 89.2 252.9 90.3 243.7C91.4 234.4 92.1 230.8 93.2 224.8C94.3 218.8 95.5 213.1 96.9 207.8C98.4 202.4 99.6 197.1 101.7 192.7C103.7 188.2 106.4 185.1 109.2 181.3C112.1 177.5 115.5 174.1 118.7 170.0C121.8 165.9 124.7 161.5 128.1 156.7C131.6 152.0 135.7 146.2 139.5 141.6C143.3 137.1 147.0 132.6 150.8 129.3C154.6 126.0 157.7 124.3 162.2 121.8C166.6 119.3 172.2 117.2 177.3 114.2C182.3 111.2 187.0 107.3 192.4 103.8C197.7 100.4 203.4 96.6 209.4 93.4C215.4 90.3 222.0 87.6 228.3 84.9C234.6 82.2 241.1 79.4 247.2 77.4C253.3 75.3 261.0 73.7 265.0 72.6C268.9 71.5 267.7 70.6 270.9 70.7Z"/>
<path d="M267.1 143.5C272.6 142.7 277.2 143.0 282.2 143.5C287.2 144.0 292.3 144.8 297.3 146.3C302.4 147.9 307.4 150.3 312.4 153.0C317.5 155.6 322.8 159.1 327.6 162.4C332.3 165.7 336.4 169.0 340.8 172.8C345.2 176.6 350.2 180.8 354.0 185.1C357.8 189.3 360.6 193.9 363.5 198.3C366.3 202.7 368.8 206.8 371.0 211.6C373.2 216.3 375.3 221.6 376.7 226.7C378.1 231.7 379.1 236.8 379.5 241.8C380.0 246.8 379.8 253.0 379.5 256.9C379.2 260.8 378.7 261.2 377.6 265.1C376.5 269.0 375.0 275.2 372.9 280.2C370.9 285.3 368.2 290.6 365.4 295.3C362.5 300.1 359.4 304.2 355.9 308.6C352.4 313.0 348.7 317.5 344.6 321.8C340.5 326.1 335.7 330.1 331.3 334.1C326.9 338.0 322.8 341.8 318.1 345.4C313.4 349.0 308.0 352.8 303.0 355.8C297.9 358.8 292.9 361.2 287.9 363.4C282.8 365.6 276.6 367.6 272.7 369.1C268.9 370.5 268.9 371.3 265.0 371.9C261.0 372.5 254.3 373.0 249.1 372.8C243.9 372.7 239.0 372.0 234.0 370.9C228.9 369.8 223.6 368.1 218.9 366.2C214.1 364.3 210.0 362.3 205.6 359.6C201.2 356.9 196.5 353.6 192.4 350.2C188.3 346.7 184.5 342.9 181.1 338.8C177.6 334.7 174.4 330.3 171.6 325.6C168.8 320.9 166.1 315.5 164.0 310.5C162.0 305.4 160.6 300.4 159.3 295.3C158.1 290.3 157.1 285.3 156.5 280.2C155.9 275.2 155.5 269.0 155.5 265.1C155.5 261.2 155.7 261.1 156.5 256.9C157.3 252.7 158.7 245.6 160.3 239.9C161.8 234.2 163.7 228.2 165.9 222.9C168.1 217.5 170.8 212.5 173.5 207.8C176.2 203.0 178.8 198.6 182.0 194.5C185.1 190.4 188.5 187.0 192.4 183.2C196.3 179.4 201.2 175.3 205.6 171.9C210.0 168.4 214.1 165.4 218.9 162.4C223.6 159.4 228.9 156.3 234.0 153.9C239.0 151.5 243.6 150.0 249.1 148.2C254.6 146.5 261.6 144.3 267.1 143.5Z"/>
<path d="M267.9 200.9C271.5 201.0 279.5 201.6 283.5 202.5C287.5 203.4 294.6 205.7 298.1 207.7C301.5 209.6 306.5 214.1 309.5 217.1C312.6 220.0 318.8 225.9 321.0 229.6C323.2 233.2 325.2 240.1 326.2 244.1C327.2 248.2 328.6 255.6 328.3 259.8C328.0 263.9 325.9 271.8 324.1 275.4C322.3 279.0 317.4 283.9 314.7 286.9C312.1 289.8 307.2 294.9 304.3 297.3C301.4 299.6 295.8 302.9 292.9 304.6C289.9 306.2 285.2 308.2 282.4 309.8C279.7 311.3 275.4 314.9 272.0 316.0C268.7 317.1 261.5 318.1 257.4 318.1C253.4 318.1 245.4 317.0 241.8 316.0C238.2 315.0 233.3 312.9 230.4 310.8C227.5 308.7 222.6 303.3 219.9 300.4C217.3 297.5 212.7 292.4 210.6 288.9C208.5 285.5 205.4 278.2 204.3 274.4C203.2 270.5 202.1 263.7 202.2 259.8C202.4 255.9 204.0 248.9 205.4 245.2C206.8 241.4 210.4 235.0 212.7 231.6C214.9 228.3 219.4 223.0 222.0 220.2C224.7 217.4 229.4 212.8 232.4 210.8C235.5 208.9 241.8 206.8 244.9 205.6C248.1 204.4 253.4 202.6 256.4 202.0C259.5 201.3 264.3 200.8 267.9 200.9Z"/>
<path d="M267.9 234.8C269.3 234.7 270.7 234.4 272.0 235.0C273.4 235.5 279.7 239.3 281.4 240.5C283.1 241.7 288.1 245.4 289.2 247.3C290.3 249.1 292.3 256.4 292.3 258.7C292.3 261.0 290.3 268.2 289.2 270.2C288.1 272.2 283.1 277.0 281.4 278.5C279.7 280.1 274.2 285.0 272.0 285.8C269.8 286.6 261.8 287.1 259.5 286.9C257.2 286.6 251.0 284.8 249.1 283.7C247.2 282.7 242.2 277.8 240.8 276.4C239.3 275.1 235.3 271.9 234.5 270.2C233.8 268.5 233.1 262.0 233.5 259.8C233.9 257.6 237.3 250.2 238.7 248.3C240.1 246.4 245.2 242.3 247.0 241.0C248.9 239.7 255.4 235.9 257.4 235.3C259.5 234.7 266.4 234.8 267.9 234.8Z"/>
</g>
<rect x="1783" y="106.9" width="64.9" height="531.3" fill="url(#cm)"/>
<path d="M1265.05 612.62h5.6M1757.91 638.2v-5.6M1265.05 586.68h5.6M1731.97 638.2v-5.6M1265.05 560.74h5.6M1706.03 638.2v-5.6M1265.05 534.8h5.6M1680.09 638.2v-5.6M1265.05 508.86h11M1654.15 638.2v-11M1265.05 482.92h5.6M1628.21 638.2v-5.6M1265.05 456.98h5.6M1602.27 638.2v-5.6M1265.05 431.04h5.6M1576.33 638.2v-5.6M1265.05 405.1h5.6M1550.39 638.2v-5.6M1265.05 379.16h11M1524.45 638.2v-11M1265.05 353.22h5.6M1498.51 638.2v-5.6M1265.05 327.28h5.6M1472.57 638.2v-5.6M1265.05 301.34h5.6M1446.63 638.2v-5.6M1265.05 275.4h5.6M1420.69 638.2v-5.6M1265.05 249.46h11M1394.75 638.2v-11M1265.05 223.52h5.6M1368.81 638.2v-5.6M1265.05 197.58h5.6M1342.87 638.2v-5.6M1265.05 171.64h5.6M1316.93 638.2v-5.6M1265.05 145.7h5.6M1290.99 638.2v-5.6M1265.05 119.76h11M1750.55 106.9v5.6M1718.25 106.9v5.6M1685.95 106.9v11M1653.65 106.9v5.6M1621.35 106.9v5.6M1589.05 106.9v5.6M1556.75 106.9v5.6M1524.45 106.9v11M1492.15 106.9v5.6M1459.85 106.9v5.6M1427.55 106.9v5.6M1395.25 106.9v5.6M1362.95 106.9v11M1330.65 106.9v5.6M1298.35 106.9v5.6M1847.9 160.03h-5.6M1847.9 213.16h-11M1847.9 266.29h-5.6M1847.9 319.42h-11M1847.9 372.55h-5.6M1847.9 425.68h-11M1847.9 478.81h-5.6M1847.9 531.94h-11M1847.9 585.07h-5.6" stroke="#000" stroke-width="1.9" fill="none"/>
<path d="M1265.05 106.9H1847.9V638.2H1265.05Z M1783 106.9V638.2" stroke="#000" stroke-width="1.9" fill="none" stroke-linejoin="miter"/>
</g>
<g>
<rect x="1265.05" y="679.9" width="517.95" height="531.3" fill="#A7A9AC"/>
<g clip-path="url(#clipd)" shape-rendering="crispEdges">
<rect x="1504.46" y="704.33" width="114.51" height="12.99" fill="#0083CB"/>
<rect x="1466.39" y="717.02" width="38.37" height="12.99" fill="#E31B23"/>
<rect x="1504.46" y="717.02" width="152.58" height="12.99" fill="#0083CB"/>
<rect x="1441.01" y="729.71" width="63.75" height="12.99" fill="#E31B23"/>
<rect x="1504.46" y="729.71" width="177.96" height="12.99" fill="#0083CB"/>
<rect x="1415.63" y="742.4" width="101.82" height="12.99" fill="#E31B23"/>
<rect x="1517.15" y="742.4" width="177.96" height="12.99" fill="#0083CB"/>
<rect x="1402.94" y="755.09" width="114.51" height="12.99" fill="#E31B23"/>
<rect x="1517.15" y="755.09" width="190.65" height="12.99" fill="#0083CB"/>
<rect x="1390.25" y="767.78" width="101.82" height="12.99" fill="#E31B23"/>
<rect x="1491.77" y="767.78" width="25.68" height="12.99" fill="#00AFDA"/>
<rect x="1517.15" y="767.78" width="101.82" height="12.99" fill="#AAD48A"/>
<rect x="1618.67" y="767.78" width="101.82" height="12.99" fill="#0083CB"/>
<rect x="1377.56" y="780.47" width="89.13" height="12.99" fill="#E31B23"/>
<rect x="1466.39" y="780.47" width="51.06" height="12.99" fill="#00AFDA"/>
<rect x="1517.15" y="780.47" width="127.2" height="12.99" fill="#AAD48A"/>
<rect x="1644.05" y="780.47" width="76.44" height="12.99" fill="#0083CB"/>
<rect x="1364.87" y="793.16" width="76.44" height="12.99" fill="#E31B23"/>
<rect x="1441.01" y="793.16" width="76.44" height="12.99" fill="#00AFDA"/>
<rect x="1517.15" y="793.16" width="12.99" height="12.99" fill="#AAD48A"/>
<rect x="1529.84" y="793.16" width="38.37" height="12.99" fill="#C3DB78"/>
<rect x="1567.91" y="793.16" width="89.13" height="12.99" fill="#AAD48A"/>
<rect x="1656.74" y="793.16" width="76.44" height="12.99" fill="#0083CB"/>
<rect x="1352.18" y="805.85" width="76.44" height="12.99" fill="#E31B23"/>
<rect x="1428.32" y="805.85" width="63.75" height="12.99" fill="#00AFDA"/>
<rect x="1491.77" y="805.85" width="25.68" height="12.99" fill="#FFF100"/>
<rect x="1517.15" y="805.85" width="89.13" height="12.99" fill="#C3DB78"/>
<rect x="1605.98" y="805.85" width="63.75" height="12.99" fill="#AAD48A"/>
<rect x="1669.43" y="805.85" width="76.44" height="12.99" fill="#0083CB"/>
<rect x="1339.49" y="818.54" width="76.44" height="12.99" fill="#E31B23"/>
<rect x="1415.63" y="818.54" width="51.06" height="12.99" fill="#00AFDA"/>
<rect x="1466.39" y="818.54" width="51.06" height="12.99" fill="#FFF100"/>
<rect x="1517.15" y="818.54" width="25.68" height="12.99" fill="#B5D98A"/>
<rect x="1542.53" y="818.54" width="25.68" height="12.99" fill="#0095DA"/>
<rect x="1567.91" y="818.54" width="63.75" height="12.99" fill="#C3DB78"/>
<rect x="1631.36" y="818.54" width="51.06" height="12.99" fill="#AAD48A"/>
<rect x="1682.12" y="818.54" width="63.75" height="12.99" fill="#0083CB"/>
<rect x="1339.49" y="831.23" width="63.75" height="12.99" fill="#E31B23"/>
<rect x="1402.94" y="831.23" width="38.37" height="12.99" fill="#00AFDA"/>
<rect x="1441.01" y="831.23" width="38.37" height="12.99" fill="#FFF100"/>
<rect x="1479.08" y="831.23" width="63.75" height="12.99" fill="#B5D98A"/>
<rect x="1542.53" y="831.23" width="63.75" height="12.99" fill="#0095DA"/>
<rect x="1605.98" y="831.23" width="38.37" height="12.99" fill="#C3DB78"/>
<rect x="1644.05" y="831.23" width="38.37" height="12.99" fill="#AAD48A"/>
<rect x="1682.12" y="831.23" width="63.75" height="12.99" fill="#0083CB"/>
<rect x="1326.8" y="843.92" width="63.75" height="12.99" fill="#E31B23"/>
<rect x="1390.25" y="843.92" width="38.37" height="12.99" fill="#00AFDA"/>
<rect x="1428.32" y="843.92" width="38.37" height="12.99" fill="#FFF100"/>
<rect x="1466.39" y="843.92" width="25.68" height="12.99" fill="#12B2D0"/>
<rect x="1491.77" y="843.92" width="51.06" height="12.99" fill="#B5D98A"/>
<rect x="1542.53" y="843.92" width="76.44" height="12.99" fill="#0095DA"/>
<rect x="1618.67" y="843.92" width="25.68" height="12.99" fill="#C3DB78"/>
<rect x="1644.05" y="843.92" width="51.06" height="12.99" fill="#AAD48A"/>
<rect x="1694.81" y="843.92" width="63.75" height="12.99" fill="#0083CB"/>
<rect x="1326.8" y="856.61" width="51.06" height="12.99" fill="#E31B23"/>
<rect x="1377.56" y="856.61" width="51.06" height="12.99" fill="#00AFDA"/>
<rect x="1428.32" y="856.61" width="25.68" height="12.99" fill="#FFF100"/>
<rect x="1453.7" y="856.61" width="38.37" height="12.99" fill="#12B2D0"/>
<rect x="1491.77" y="856.61" width="12.99" height="12.99" fill="#B5D98A"/>
<rect x="1504.46" y="856.61" width="25.68" height="12.99" fill="#89CC9D"/>
<rect x="1529.84" y="856.61" width="25.68" height="12.99" fill="#F7941D"/>
<rect x="1555.22" y="856.61" width="76.44" height="12.99" fill="#0095DA"/>
<rect x="1631.36" y="856.61" width="25.68" height="12.99" fill="#C3DB78"/>
<rect x="1656.74" y="856.61" width="38.37" height="12.99" fill="#AAD48A"/>
<rect x="1694.81" y="856.61" width="63.75" height="12.99" fill="#0083CB"/>
<rect x="1314.11" y="869.3" width="63.75" height="12.99" fill="#E31B23"/>
<rect x="1377.56" y="869.3" width="38.37" height="12.99" fill="#00AFDA"/>
<rect x="1415.63" y="869.3" width="25.68" height="12.99" fill="#FFF100"/>
<rect x="1441.01" y="869.3" width="51.06" height="12.99" fill="#12B2D0"/>
<rect x="1491.77" y="869.3" width="38.37" height="12.99" fill="#89CC9D"/>
<rect x="1529.84" y="869.3" width="38.37" height="12.99" fill="#F7941D"/>
<rect x="1567.91" y="869.3" width="63.75" height="12.99" fill="#0095DA"/>
<rect x="1631.36" y="869.3" width="25.68" height="12.99" fill="#C3DB78"/>
<rect x="1656.74" y="869.3" width="38.37" height="12.99" fill="#AAD48A"/>
<rect x="1694.81" y="869.3" width="63.75" height="12.99" fill="#0083CB"/>
<rect x="1314.11" y="881.99" width="51.06" height="12.99" fill="#E31B23"/>
<rect x="1364.87" y="881.99" width="38.37" height="12.99" fill="#00AFDA"/>
<rect x="1402.94" y="881.99" width="25.68" height="12.99" fill="#FFF100"/>
<rect x="1428.32" y="881.99" width="12.99" height="12.99" fill="#F7941D"/>
<rect x="1441.01" y="881.99" width="38.37" height="12.99" fill="#12B2D0"/>
<rect x="1479.08" y="881.99" width="25.68" height="12.99" fill="#FFF100"/>
<rect x="1504.46" y="881.99" width="25.68" height="12.99" fill="#89CC9D"/>
<rect x="1529.84" y="881.99" width="25.68" height="12.99" fill="#F7941D"/>
<rect x="1555.22" y="881.99" width="25.68" height="12.99" fill="#45BCB4"/>
<rect x="1580.6" y="881.99" width="63.75" height="12.99" fill="#0095DA"/>
<rect x="1644.05" y="881.99" width="25.68" height="12.99" fill="#C3DB78"/>
<rect x="1669.43" y="881.99" width="25.68" height="12.99" fill="#AAD48A"/>
<rect x="1694.81" y="881.99" width="63.75" height="12.99" fill="#0083CB"/>
<rect x="1301.42" y="894.68" width="63.75" height="12.99" fill="#E31B23"/>
<rect x="1364.87" y="894.68" width="25.68" height="12.99" fill="#00AFDA"/>
<rect x="1390.25" y="894.68" width="38.37" height="12.99" fill="#FFF100"/>
<rect x="1428.32" y="894.68" width="25.68" height="12.99" fill="#F7941D"/>
<rect x="1453.7" y="894.68" width="12.99" height="12.99" fill="#E31B23"/>
<rect x="1466.39" y="894.68" width="38.37" height="12.99" fill="#FFF100"/>
<rect x="1504.46" y="894.68" width="25.68" height="12.99" fill="#EE3A24"/>
<rect x="1529.84" y="894.68" width="25.68" height="12.99" fill="#F26A21"/>
<rect x="1555.22" y="894.68" width="25.68" height="12.99" fill="#45BCB4"/>
<rect x="1580.6" y="894.68" width="12.99" height="12.99" fill="#0083CB"/>
<rect x="1593.29" y="894.68" width="12.99" height="12.99" fill="#0095DA"/>
<rect x="1605.98" y="894.68" width="38.37" height="12.99" fill="#0083CB"/>
<rect x="1644.05" y="894.68" width="25.68" height="12.99" fill="#C3DB78"/>
<rect x="1669.43" y="894.68" width="25.68" height="12.99" fill="#AAD48A"/>
<rect x="1694.81" y="894.68" width="63.75" height="12.99" fill="#0083CB"/>
<rect x="1301.42" y="907.37" width="63.75" height="12.99" fill="#E31B23"/>
<rect x="1364.87" y="907.37" width="25.68" height="12.99" fill="#00AFDA"/>
<rect x="1390.25" y="907.37" width="25.68" height="12.99" fill="#FFF100"/>
<rect x="1415.63" y="907.37" width="51.06" height="12.99" fill="#F7941D"/>
<rect x="1466.39" y="907.37" width="25.68" height="12.99" fill="#E31B23"/>
<rect x="1491.77" y="907.37" width="12.99" height="12.99" fill="#DDE35A"/>
<rect x="1504.46" y="907.37" width="12.99" height="12.99" fill="#89CC9D"/>
<rect x="1517.15" y="907.37" width="12.99" height="12.99" fill="#DDE35A"/>
<rect x="1529.84" y="907.37" width="25.68" height="12.99" fill="#FFD60A"/>
<rect x="1555.22" y="907.37" width="25.68" height="12.99" fill="#B5D98A"/>
<rect x="1580.6" y="907.37" width="63.75" height="12.99" fill="#0083CB"/>
<rect x="1644.05" y="907.37" width="25.68" height="12.99" fill="#C3DB78"/>
<rect x="1669.43" y="907.37" width="38.37" height="12.99" fill="#AAD48A"/>
<rect x="1707.5" y="907.37" width="51.06" height="12.99" fill="#0083CB"/>
<rect x="1301.42" y="920.06" width="51.06" height="12.99" fill="#E31B23"/>
<rect x="1352.18" y="920.06" width="38.37" height="12.99" fill="#00AFDA"/>
<rect x="1390.25" y="920.06" width="25.68" height="12.99" fill="#FFF100"/>
<rect x="1415.63" y="920.06" width="38.37" height="12.99" fill="#F7941D"/>
<rect x="1453.7" y="920.06" width="25.68" height="12.99" fill="#89CC9D"/>
<rect x="1479.08" y="920.06" width="12.99" height="12.99" fill="#E31B23"/>
<rect x="1491.77" y="920.06" width="12.99" height="12.99" fill="#DDE35A"/>
<rect x="1504.46" y="920.06" width="12.99" height="12.99" fill="#0095DA"/>
<rect x="1517.15" y="920.06" width="12.99" height="12.99" fill="#DDE35A"/>
<rect x="1529.84" y="920.06" width="25.68" height="12.99" fill="#FFD60A"/>
<rect x="1555.22" y="920.06" width="25.68" height="12.99" fill="#B5D98A"/>
<rect x="1580.6" y="920.06" width="63.75" height="12.99" fill="#0083CB"/>
<rect x="1644.05" y="920.06" width="25.68" height="12.99" fill="#C3DB78"/>
<rect x="1669.43" y="920.06" width="25.68" height="12.99" fill="#AAD48A"/>
<rect x="1694.81" y="920.06" width="12.99" height="12.99" fill="#0083CB"/>
<rect x="1707.5" y="920.06" width="51.06" height="12.99" fill="#BFD977"/>
<rect x="1301.42" y="932.75" width="51.06" height="12.99" fill="#E31B23"/>
<rect x="1352.18" y="932.75" width="38.37" height="12.99" fill="#00AFDA"/>
<rect x="1390.25" y="932.75" width="25.68" height="12.99" fill="#FFF100"/>
<rect x="1415.63" y="932.75" width="38.37" height="12.99" fill="#F7941D"/>
<rect x="1453.7" y="932.75" width="38.37" height="12.99" fill="#89CC9D"/>
<rect x="1491.77" y="932.75" width="12.99" height="12.99" fill="#DDE35A"/>
<rect x="1504.46" y="932.75" width="12.99" height="12.99" fill="#0095DA"/>
<rect x="1517.15" y="932.75" width="12.99" height="12.99" fill="#DDE35A"/>
<rect x="1529.84" y="932.75" width="12.99" height="12.99" fill="#FFD60A"/>
<rect x="1542.53" y="932.75" width="12.99" height="12.99" fill="#F26A21"/>
<rect x="1555.22" y="932.75" width="12.99" height="12.99" fill="#FFD60A"/>
<rect x="1567.91" y="932.75" width="38.37" height="12.99" fill="#89CC9D"/>
<rect x="1605.98" y="932.75" width="38.37" height="12.99" fill="#0083CB"/>
<rect x="1644.05" y="932.75" width="25.68" height="12.99" fill="#00A0E3"/>
<rect x="1669.43" y="932.75" width="25.68" height="12.99" fill="#00A5E5"/>
<rect x="1694.81" y="932.75" width="63.75" height="12.99" fill="#BFD977"/>
<rect x="1301.42" y="945.44" width="51.06" height="12.99" fill="#E31B23"/>
<rect x="1352.18" y="945.44" width="25.68" height="12.99" fill="#00AFDA"/>
<rect x="1377.56" y="945.44" width="12.99" height="12.99" fill="#9DD094"/>
<rect x="1390.25" y="945.44" width="25.68" height="12.99" fill="#1FB5B8"/>
<rect x="1415.63" y="945.44" width="38.37" height="12.99" fill="#12B2D0"/>
<rect x="1453.7" y="945.44" width="38.37" height="12.99" fill="#0095DA"/>
<rect x="1491.77" y="945.44" width="25.68" height="12.99" fill="#6EC5A2"/>
<rect x="1517.15" y="945.44" width="25.68" height="12.99" fill="#FDB913"/>
<rect x="1542.53" y="945.44" width="12.99" height="12.99" fill="#F7941D"/>
<rect x="1555.22" y="945.44" width="25.68" height="12.99" fill="#FFD60A"/>
<rect x="1580.6" y="945.44" width="25.68" height="12.99" fill="#6EC5A2"/>
<rect x="1605.98" y="945.44" width="38.37" height="12.99" fill="#0083CB"/>
<rect x="1644.05" y="945.44" width="12.99" height="12.99" fill="#00A0E3"/>
<rect x="1656.74" y="945.44" width="38.37" height="12.99" fill="#00A5E5"/>
<rect x="1694.81" y="945.44" width="63.75" height="12.99" fill="#BFD977"/>
<rect x="1288.73" y="958.13" width="63.75" height="12.99" fill="#70C5A8"/>
<rect x="1352.18" y="958.13" width="38.37" height="12.99" fill="#9DD094"/>
<rect x="1390.25" y="958.13" width="25.68" height="12.99" fill="#1FB5B8"/>
<rect x="1415.63" y="958.13" width="38.37" height="12.99" fill="#12B2D0"/>
<rect x="1453.7" y="958.13" width="25.68" height="12.99" fill="#0095DA"/>
<rect x="1479.08" y="958.13" width="12.99" height="12.99" fill="#0083CB"/>
<rect x="1491.77" y="958.13" width="12.99" height="12.99" fill="#FDB913"/>
<rect x="1504.46" y="958.13" width="25.68" height="12.99" fill="#F7941D"/>
<rect x="1529.84" y="958.13" width="12.99" height="12.99" fill="#FDB913"/>
<rect x="1542.53" y="958.13" width="12.99" height="12.99" fill="#FFF100"/>
<rect x="1555.22" y="958.13" width="25.68" height="12.99" fill="#12B2D0"/>
<rect x="1580.6" y="958.13" width="38.37" height="12.99" fill="#6EC5A2"/>
<rect x="1618.67" y="958.13" width="12.99" height="12.99" fill="#0083CB"/>
<rect x="1631.36" y="958.13" width="25.68" height="12.99" fill="#00A0E3"/>
<rect x="1656.74" y="958.13" width="38.37" height="12.99" fill="#00A5E5"/>
<rect x="1694.81" y="958.13" width="51.06" height="12.99" fill="#BFD977"/>
<rect x="1288.73" y="970.82" width="63.75" height="12.99" fill="#70C5A8"/>
<rect x="1352.18" y="970.82" width="38.37" height="12.99" fill="#9DD094"/>
<rect x="1390.25" y="970.82" width="25.68" height="12.99" fill="#1FB5B8"/>
<rect x="1415.63" y="970.82" width="38.37" height="12.99" fill="#12B2D0"/>
<rect x="1453.7" y="970.82" width="38.37" height="12.99" fill="#0083CB"/>
<rect x="1491.77" y="970.82" width="12.99" height="12.99" fill="#6EC5A2"/>
<rect x="1504.46" y="970.82" width="12.99" height="12.99" fill="#FFF100"/>
<rect x="1517.15" y="970.82" width="12.99" height="12.99" fill="#9E0B0F"/>
<rect x="1529.84" y="970.82" width="25.68" height="12.99" fill="#F7941D"/>
<rect x="1555.22" y="970.82" width="25.68" height="12.99" fill="#12B2D0"/>
<rect x="1580.6" y="970.82" width="51.06" height="12.99" fill="#00A8E8"/>
<rect x="1631.36" y="970.82" width="25.68" height="12.99" fill="#00A0E3"/>
<rect x="1656.74" y="970.82" width="38.37" height="12.99" fill="#00A5E5"/>
<rect x="1694.81" y="970.82" width="51.06" height="12.99" fill="#BFD977"/>
<rect x="1288.73" y="983.51" width="63.75" height="12.99" fill="#70C5A8"/>
<rect x="1352.18" y="983.51" width="38.37" height="12.99" fill="#9DD094"/>
<rect x="1390.25" y="983.51" width="25.68" height="12.99" fill="#1FB5B8"/>
<rect x="1415.63" y="983.51" width="38.37" height="12.99" fill="#12B2D0"/>
<rect x="1453.7" y="983.51" width="12.99" height="12.99" fill="#F7941D"/>
<rect x="1466.39" y="983.51" width="12.99" height="12.99" fill="#0083CB"/>
<rect x="1479.08" y="983.51" width="25.68" height="12.99" fill="#6EC5A2"/>
<rect x="1504.46" y="983.51" width="12.99" height="12.99" fill="#FFF100"/>
<rect x="1517.15" y="983.51" width="25.68" height="12.99" fill="#9E0B0F"/>
<rect x="1542.53" y="983.51" width="38.37" height="12.99" fill="#0095DA"/>
<rect x="1580.6" y="983.51" width="38.37" height="12.99" fill="#00A8E8"/>
<rect x="1618.67" y="983.51" width="25.68" height="12.99" fill="#00A0E3"/>
<rect x="1644.05" y="983.51" width="38.37" height="12.99" fill="#00A5E5"/>
<rect x="1682.12" y="983.51" width="63.75" height="12.99" fill="#BFD977"/>
<rect x="1301.42" y="996.2" width="51.06" height="12.99" fill="#70C5A8"/>
<rect x="1352.18" y="996.2" width="38.37" height="12.99" fill="#9DD094"/>
<rect x="1390.25" y="996.2" width="25.68" height="12.99" fill="#1FB5B8"/>
<rect x="1415.63" y="996.2" width="12.99" height="12.99" fill="#12B2D0"/>
<rect x="1428.32" y="996.2" width="51.06" height="12.99" fill="#F7941D"/>
<rect x="1479.08" y="996.2" width="25.68" height="12.99" fill="#6EC5A2"/>
<rect x="1504.46" y="996.2" width="12.99" height="12.99" fill="#FFF100"/>
<rect x="1517.15" y="996.2" width="38.37" height="12.99" fill="#45BCB4"/>
<rect x="1555.22" y="996.2" width="25.68" height="12.99" fill="#0095DA"/>
<rect x="1580.6" y="996.2" width="38.37" height="12.99" fill="#00A8E8"/>
<rect x="1618.67" y="996.2" width="25.68" height="12.99" fill="#00A0E3"/>
<rect x="1644.05" y="996.2" width="38.37" height="12.99" fill="#00A5E5"/>
<rect x="1682.12" y="996.2" width="51.06" height="12.99" fill="#BFD977"/>
<rect x="1301.42" y="1008.89" width="63.75" height="12.99" fill="#70C5A8"/>
<rect x="1364.87" y="1008.89" width="38.37" height="12.99" fill="#9DD094"/>
<rect x="1402.94" y="1008.89" width="25.68" height="12.99" fill="#1FB5B8"/>
<rect x="1428.32" y="1008.89" width="51.06" height="12.99" fill="#F7941D"/>
<rect x="1479.08" y="1008.89" width="38.37" height="12.99" fill="#0083CB"/>
<rect x="1517.15" y="1008.89" width="38.37" height="12.99" fill="#45BCB4"/>
<rect x="1555.22" y="1008.89" width="25.68" height="12.99" fill="#0095DA"/>
<rect x="1580.6" y="1008.89" width="25.68" height="12.99" fill="#00A8E8"/>
<rect x="1605.98" y="1008.89" width="25.68" height="12.99" fill="#00A0E3"/>
<rect x="1631.36" y="1008.89" width="38.37" height="12.99" fill="#00A5E5"/>
<rect x="1669.43" y="1008.89" width="63.75" height="12.99" fill="#BFD977"/>
<rect x="1301.42" y="1021.58" width="63.75" height="12.99" fill="#70C5A8"/>
<rect x="1364.87" y="1021.58" width="38.37" height="12.99" fill="#9DD094"/>
<rect x="1402.94" y="1021.58" width="38.37" height="12.99" fill="#1FB5B8"/>
<rect x="1441.01" y="1021.58" width="38.37" height="12.99" fill="#F7941D"/>
<rect x="1479.08" y="1021.58" width="51.06" height="12.99" fill="#0083CB"/>
<rect x="1529.84" y="1021.58" width="38.37" height="12.99" fill="#45BCB4"/>
<rect x="1567.91" y="1021.58" width="25.68" height="12.99" fill="#0095DA"/>
<rect x="1593.29" y="1021.58" width="25.68" height="12.99" fill="#00A0E3"/>
<rect x="1618.67" y="1021.58" width="51.06" height="12.99" fill="#00A5E5"/>
<rect x="1669.43" y="1021.58" width="63.75" height="12.99" fill="#BFD977"/>
<rect x="1301.42" y="1034.27" width="63.75" height="12.99" fill="#70C5A8"/>
<rect x="1364.87" y="1034.27" width="51.06" height="12.99" fill="#9DD094"/>
<rect x="1415.63" y="1034.27" width="38.37" height="12.99" fill="#1FB5B8"/>
<rect x="1453.7" y="1034.27" width="25.68" height="12.99" fill="#F7941D"/>
<rect x="1479.08" y="1034.27" width="51.06" height="12.99" fill="#0083CB"/>
<rect x="1529.84" y="1034.27" width="38.37" height="12.99" fill="#45BCB4"/>
<rect x="1567.91" y="1034.27" width="38.37" height="12.99" fill="#00A0E3"/>
<rect x="1605.98" y="1034.27" width="51.06" height="12.99" fill="#00A5E5"/>
<rect x="1656.74" y="1034.27" width="63.75" height="12.99" fill="#BFD977"/>
<rect x="1301.42" y="1046.96" width="76.44" height="12.99" fill="#70C5A8"/>
<rect x="1377.56" y="1046.96" width="51.06" height="12.99" fill="#9DD094"/>
<rect x="1428.32" y="1046.96" width="38.37" height="12.99" fill="#1FB5B8"/>
<rect x="1466.39" y="1046.96" width="76.44" height="12.99" fill="#0083CB"/>
<rect x="1542.53" y="1046.96" width="51.06" height="12.99" fill="#00A0E3"/>
<rect x="1593.29" y="1046.96" width="51.06" height="12.99" fill="#00A5E5"/>
<rect x="1644.05" y="1046.96" width="63.75" height="12.99" fill="#BFD977"/>
<rect x="1314.11" y="1059.65" width="76.44" height="12.99" fill="#70C5A8"/>
<rect x="1390.25" y="1059.65" width="51.06" height="12.99" fill="#9DD094"/>
<rect x="1441.01" y="1059.65" width="101.82" height="12.99" fill="#1FB5B8"/>
<rect x="1542.53" y="1059.65" width="25.68" height="12.99" fill="#00A0E3"/>
<rect x="1567.91" y="1059.65" width="63.75" height="12.99" fill="#00A5E5"/>
<rect x="1631.36" y="1059.65" width="76.44" height="12.99" fill="#BFD977"/>
<rect x="1314.11" y="1072.34" width="76.44" height="12.99" fill="#70C5A8"/>
<rect x="1390.25" y="1072.34" width="76.44" height="12.99" fill="#9DD094"/>
<rect x="1466.39" y="1072.34" width="76.44" height="12.99" fill="#1FB5B8"/>
<rect x="1542.53" y="1072.34" width="76.44" height="12.99" fill="#00A5E5"/>
<rect x="1618.67" y="1072.34" width="76.44" height="12.99" fill="#BFD977"/>
<rect x="1326.8" y="1085.03" width="89.13" height="12.99" fill="#70C5A8"/>
<rect x="1415.63" y="1085.03" width="127.2" height="12.99" fill="#9DD094"/>
<rect x="1542.53" y="1085.03" width="51.06" height="12.99" fill="#00A5E5"/>
<rect x="1593.29" y="1085.03" width="89.13" height="12.99" fill="#BFD977"/>
<rect x="1339.49" y="1097.72" width="89.13" height="12.99" fill="#70C5A8"/>
<rect x="1428.32" y="1097.72" width="114.51" height="12.99" fill="#9DD094"/>
<rect x="1542.53" y="1097.72" width="25.68" height="12.99" fill="#00A5E5"/>
<rect x="1567.91" y="1097.72" width="101.82" height="12.99" fill="#BFD977"/>
<rect x="1339.49" y="1110.41" width="127.2" height="12.99" fill="#70C5A8"/>
<rect x="1466.39" y="1110.41" width="63.75" height="12.99" fill="#9DD094"/>
<rect x="1529.84" y="1110.41" width="12.99" height="12.99" fill="#70C5A8"/>
<rect x="1542.53" y="1110.41" width="114.51" height="12.99" fill="#BFD977"/>
<rect x="1352.18" y="1123.1" width="190.65" height="12.99" fill="#70C5A8"/>
<rect x="1542.53" y="1123.1" width="89.13" height="12.99" fill="#BFD977"/>
<rect x="1377.56" y="1135.79" width="165.27" height="12.99" fill="#70C5A8"/>
<rect x="1542.53" y="1135.79" width="76.44" height="12.99" fill="#BFD977"/>
<rect x="1390.25" y="1148.48" width="152.58" height="12.99" fill="#70C5A8"/>
<rect x="1542.53" y="1148.48" width="51.06" height="12.99" fill="#BFD977"/>
<rect x="1415.63" y="1161.17" width="127.2" height="12.99" fill="#70C5A8"/>
<rect x="1542.53" y="1161.17" width="12.99" height="12.99" fill="#BFD977"/>
</g>
<g clip-path="url(#cclipd)" transform="translate(1265.05,679.9)" fill="none" stroke="#000" stroke-width="5" stroke-linejoin="round">
<path d="M0.5 257.3C1.0 252.9 4.9 249.8 5.8 244.1C6.8 238.3 4.8 228.6 6.4 222.9C7.9 217.2 12.3 213.6 15.1 209.7C17.9 205.7 21.5 203.9 23.0 199.1C24.6 194.2 22.1 185.4 24.3 180.6C26.5 175.7 33.4 174.4 36.2 170.0C39.1 165.6 39.8 160.3 41.5 154.1C43.3 147.9 44.4 139.6 46.8 133.0C49.3 126.3 52.8 120.2 56.1 114.4C59.4 108.7 62.9 103.2 66.7 98.6C70.4 93.9 74.4 89.1 78.6 86.7C82.8 84.2 87.2 86.0 91.8 84.0C96.4 82.0 102.6 77.6 106.4 74.8C110.1 71.9 112.7 70.1 114.3 66.8C115.8 63.5 113.4 59.3 115.6 54.9C117.8 50.5 122.9 43.9 127.5 40.4C132.1 36.8 137.2 36.0 143.4 33.8C149.6 31.5 157.5 29.3 164.6 27.1C171.6 24.9 178.7 23.2 185.7 20.5C192.8 17.9 200.3 13.5 206.9 11.3C213.5 9.1 219.2 9.1 225.4 7.3C231.6 5.5 236.4 1.7 243.9 0.7C251.4 -0.3 261.6 1.6 270.4 1.5C279.2 1.4 288.5 -1.0 296.8 0.2C305.2 1.3 314.0 7.4 320.6 8.6C327.3 9.8 330.8 6.4 336.5 7.3C342.2 8.2 348.9 10.8 355.0 13.9C361.2 17.0 366.9 21.8 373.5 25.8C380.2 29.8 388.1 34.0 394.7 37.7C401.3 41.5 407.1 44.3 413.2 48.3C419.4 52.3 425.6 56.7 431.7 61.5C437.9 66.4 444.5 73.9 450.3 77.4C456.0 80.9 462.0 79.6 466.1 82.7C470.3 85.8 473.2 91.1 475.4 95.9C477.6 100.8 476.9 105.6 479.4 111.8C481.8 118.0 486.4 125.9 489.9 133.0C493.5 140.0 497.0 147.5 500.5 154.1C504.1 160.7 508.7 166.5 511.1 172.6C513.5 178.8 514.2 184.1 515.1 191.2C516.0 198.2 516.0 207.5 516.4 215.0C516.8 222.5 517.8 229.1 517.7 236.1C517.6 243.2 516.5 250.7 515.9 257.3C515.2 263.9 514.6 268.5 513.8 276.0C513.0 283.5 511.3 294.9 511.1 302.4C510.9 309.9 513.5 315.2 512.4 320.9C511.3 326.7 506.7 332.0 504.5 336.8C502.3 341.7 502.1 345.2 499.2 350.0C496.3 354.9 490.2 361.5 487.3 365.9C484.4 370.3 482.9 372.5 482.0 376.5C481.1 380.5 483.3 385.3 482.0 389.7C480.7 394.1 477.2 399.0 474.1 403.0C471.0 406.9 466.6 409.6 463.5 413.5C460.4 417.5 459.1 422.8 455.6 426.8C452.0 430.7 447.2 433.8 442.3 437.3C437.5 440.9 431.7 444.4 426.5 447.9C421.2 451.5 415.0 455.6 410.6 458.5C406.2 461.4 404.0 464.2 400.0 465.1C396.0 466.0 391.6 462.3 386.8 463.8C381.9 465.3 375.8 470.9 370.9 474.4C366.1 477.9 362.1 482.1 357.7 485.0C353.3 487.8 348.4 488.9 344.4 491.6C340.5 494.2 337.8 498.0 333.9 500.8C329.9 503.7 324.6 507.2 320.6 508.8C316.7 510.3 314.5 507.9 310.1 510.1C305.6 512.3 299.5 518.5 294.2 522.0C288.9 525.5 283.2 528.2 278.3 531.3C273.5 534.4 273.5 537.7 265.1 540.5C256.7 543.4 238.6 548.5 228.0 548.5C217.5 548.5 207.8 543.4 201.6 540.5C195.4 537.7 195.4 534.6 191.0 531.3C186.6 528.0 181.3 523.8 175.1 520.7C169.0 517.6 160.4 515.4 154.0 512.7C147.6 510.1 141.2 508.6 136.8 504.8C132.4 501.1 130.4 494.7 127.5 490.3C124.7 485.8 123.5 482.3 119.6 478.4C115.6 474.4 108.6 470.4 103.7 466.4C98.9 462.5 95.3 458.7 90.5 454.5C85.6 450.4 80.3 445.5 74.6 441.3C68.9 437.1 62.0 432.5 56.1 429.4C50.1 426.3 43.3 425.4 38.9 422.8C34.5 420.2 32.3 419.1 29.6 413.5C27.0 408.0 25.0 397.7 23.0 389.7C21.0 381.8 18.4 372.3 17.7 365.9C17.1 359.5 20.8 356.2 19.1 351.4C17.3 346.5 9.6 343.2 7.1 336.8C4.7 330.4 4.5 320.5 4.5 313.0C4.5 305.5 7.4 298.9 7.1 291.8C6.9 284.8 4.3 276.4 3.2 270.7C2.1 264.9 0.1 261.7 0.5 257.3Z"/>
<path d="M270.9 70.7C274.0 70.9 279.4 72.3 284.1 73.6C288.8 74.8 293.8 76.6 299.2 78.3C304.6 80.0 310.5 81.9 316.2 84.0C321.9 86.0 327.9 88.4 333.2 90.6C338.6 92.8 343.0 94.7 348.3 97.2C353.7 99.7 360.0 102.6 365.4 105.7C370.7 108.9 375.4 112.3 380.5 116.1C385.5 119.9 390.9 124.1 395.6 128.4C400.3 132.6 404.7 137.2 408.8 141.6C412.9 146.0 416.7 150.1 420.2 154.9C423.6 159.6 426.9 165.2 429.6 170.0C432.3 174.7 434.5 178.5 436.2 183.2C438.0 187.9 438.9 193.3 440.0 198.3C441.1 203.4 442.1 208.1 442.8 213.4C443.6 218.8 444.6 224.5 444.7 230.5C444.9 236.4 444.3 243.2 443.8 249.4C443.3 255.5 442.8 262.6 441.9 267.1C441.0 271.6 439.1 273.0 438.1 276.4C437.2 279.9 437.2 283.4 436.2 287.8C435.3 292.2 434.0 297.5 432.4 302.9C430.9 308.3 428.8 314.6 426.8 319.9C424.7 325.3 422.5 330.3 420.2 335.0C417.8 339.8 415.8 344.2 412.6 348.3C409.5 352.4 405.4 355.8 401.3 359.6C397.2 363.4 392.4 367.2 388.0 370.9C383.6 374.7 378.9 378.2 374.8 382.3C370.7 386.4 367.6 391.1 363.5 395.5C359.4 399.9 355.0 405.0 350.2 408.7C345.5 412.5 339.8 415.4 335.1 418.2C330.4 421.0 326.3 423.5 321.9 425.8C317.5 428.0 313.4 429.5 308.7 431.4C303.9 433.3 298.6 435.4 293.5 437.1C288.5 438.8 283.2 440.4 278.4 441.8C273.6 443.2 269.9 444.7 265.0 445.6C260.1 446.5 254.3 446.9 249.1 447.5C243.9 448.1 239.0 448.7 234.0 449.4C228.9 450.0 224.2 452.4 218.9 451.3C213.5 450.2 207.2 445.6 201.8 442.8C196.5 439.9 191.8 436.9 186.7 434.3C181.7 431.6 176.3 429.1 171.6 426.7C166.9 424.3 162.5 422.1 158.4 420.1C154.3 418.0 150.8 416.9 147.0 414.4C143.3 411.9 139.5 408.4 135.7 405.0C131.9 401.5 128.1 397.7 124.4 393.6C120.6 389.5 116.2 384.8 113.0 380.4C109.9 376.0 107.5 372.2 105.5 367.2C103.4 362.1 102.3 355.8 100.7 350.2C99.2 344.5 97.4 338.8 96.0 333.1C94.6 327.5 93.5 322.1 92.2 316.1C91.0 310.1 89.4 303.2 88.4 297.2C87.5 291.2 86.2 289.1 86.6 280.2C86.9 271.3 89.2 252.9 90.3 243.7C91.4 234.4 92.1 230.8 93.2 224.8C94.3 218.8 95.5 213.1 96.9 207.8C98.4 202.4 99.6 197.1 101.7 192.7C103.7 188.2 106.4 185.1 109.2 181.3C112.1 177.5 115.5 174.1 118.7 170.0C121.8 165.9 124.7 161.5 128.1 156.7C131.6 152.0 135.7 146.2 139.5 141.6C143.3 137.1 147.0 132.6 150.8 129.3C154.6 126.0 157.7 124.3 162.2 121.8C166.6 119.3 172.2 117.2 177.3 114.2C182.3 111.2 187.0 107.3 192.4 103.8C197.7 100.4 203.4 96.6 209.4 93.4C215.4 90.3 222.0 87.6 228.3 84.9C234.6 82.2 241.1 79.4 247.2 77.4C253.3 75.3 261.0 73.7 265.0 72.6C268.9 71.5 267.7 70.6 270.9 70.7Z"/>
<path d="M267.1 143.5C272.6 142.7 277.2 143.0 282.2 143.5C287.2 144.0 292.3 144.8 297.3 146.3C302.4 147.9 307.4 150.3 312.4 153.0C317.5 155.6 322.8 159.1 327.6 162.4C332.3 165.7 336.4 169.0 340.8 172.8C345.2 176.6 350.2 180.8 354.0 185.1C357.8 189.3 360.6 193.9 363.5 198.3C366.3 202.7 368.8 206.8 371.0 211.6C373.2 216.3 375.3 221.6 376.7 226.7C378.1 231.7 379.1 236.8 379.5 241.8C380.0 246.8 379.8 253.0 379.5 256.9C379.2 260.8 378.7 261.2 377.6 265.1C376.5 269.0 375.0 275.2 372.9 280.2C370.9 285.3 368.2 290.6 365.4 295.3C362.5 300.1 359.4 304.2 355.9 308.6C352.4 313.0 348.7 317.5 344.6 321.8C340.5 326.1 335.7 330.1 331.3 334.1C326.9 338.0 322.8 341.8 318.1 345.4C313.4 349.0 308.0 352.8 303.0 355.8C297.9 358.8 292.9 361.2 287.9 363.4C282.8 365.6 276.6 367.6 272.7 369.1C268.9 370.5 268.9 371.3 265.0 371.9C261.0 372.5 254.3 373.0 249.1 372.8C243.9 372.7 239.0 372.0 234.0 370.9C228.9 369.8 223.6 368.1 218.9 366.2C214.1 364.3 210.0 362.3 205.6 359.6C201.2 356.9 196.5 353.6 192.4 350.2C188.3 346.7 184.5 342.9 181.1 338.8C177.6 334.7 174.4 330.3 171.6 325.6C168.8 320.9 166.1 315.5 164.0 310.5C162.0 305.4 160.6 300.4 159.3 295.3C158.1 290.3 157.1 285.3 156.5 280.2C155.9 275.2 155.5 269.0 155.5 265.1C155.5 261.2 155.7 261.1 156.5 256.9C157.3 252.7 158.7 245.6 160.3 239.9C161.8 234.2 163.7 228.2 165.9 222.9C168.1 217.5 170.8 212.5 173.5 207.8C176.2 203.0 178.8 198.6 182.0 194.5C185.1 190.4 188.5 187.0 192.4 183.2C196.3 179.4 201.2 175.3 205.6 171.9C210.0 168.4 214.1 165.4 218.9 162.4C223.6 159.4 228.9 156.3 234.0 153.9C239.0 151.5 243.6 150.0 249.1 148.2C254.6 146.5 261.6 144.3 267.1 143.5Z"/>
<path d="M267.9 200.9C271.5 201.0 279.5 201.6 283.5 202.5C287.5 203.4 294.6 205.7 298.1 207.7C301.5 209.6 306.5 214.1 309.5 217.1C312.6 220.0 318.8 225.9 321.0 229.6C323.2 233.2 325.2 240.1 326.2 244.1C327.2 248.2 328.6 255.6 328.3 259.8C328.0 263.9 325.9 271.8 324.1 275.4C322.3 279.0 317.4 283.9 314.7 286.9C312.1 289.8 307.2 294.9 304.3 297.3C301.4 299.6 295.8 302.9 292.9 304.6C289.9 306.2 285.2 308.2 282.4 309.8C279.7 311.3 275.4 314.9 272.0 316.0C268.7 317.1 261.5 318.1 257.4 318.1C253.4 318.1 245.4 317.0 241.8 316.0C238.2 315.0 233.3 312.9 230.4 310.8C227.5 308.7 222.6 303.3 219.9 300.4C217.3 297.5 212.7 292.4 210.6 288.9C208.5 285.5 205.4 278.2 204.3 274.4C203.2 270.5 202.1 263.7 202.2 259.8C202.4 255.9 204.0 248.9 205.4 245.2C206.8 241.4 210.4 235.0 212.7 231.6C214.9 228.3 219.4 223.0 222.0 220.2C224.7 217.4 229.4 212.8 232.4 210.8C235.5 208.9 241.8 206.8 244.9 205.6C248.1 204.4 253.4 202.6 256.4 202.0C259.5 201.3 264.3 200.8 267.9 200.9Z"/>
<path d="M267.9 234.8C269.3 234.7 270.7 234.4 272.0 235.0C273.4 235.5 279.7 239.3 281.4 240.5C283.1 241.7 288.1 245.4 289.2 247.3C290.3 249.1 292.3 256.4 292.3 258.7C292.3 261.0 290.3 268.2 289.2 270.2C288.1 272.2 283.1 277.0 281.4 278.5C279.7 280.1 274.2 285.0 272.0 285.8C269.8 286.6 261.8 287.1 259.5 286.9C257.2 286.6 251.0 284.8 249.1 283.7C247.2 282.7 242.2 277.8 240.8 276.4C239.3 275.1 235.3 271.9 234.5 270.2C233.8 268.5 233.1 262.0 233.5 259.8C233.9 257.6 237.3 250.2 238.7 248.3C240.1 246.4 245.2 242.3 247.0 241.0C248.9 239.7 255.4 235.9 257.4 235.3C259.5 234.7 266.4 234.8 267.9 234.8Z"/>
</g>
<rect x="1783" y="679.9" width="64.9" height="531.3" fill="url(#cm)"/>
<path d="M1265.05 1185.62h5.6M1757.91 1211.2v-5.6M1265.05 1159.68h5.6M1731.97 1211.2v-5.6M1265.05 1133.74h5.6M1706.03 1211.2v-5.6M1265.05 1107.8h5.6M1680.09 1211.2v-5.6M1265.05 1081.86h11M1654.15 1211.2v-11M1265.05 1055.92h5.6M1628.21 1211.2v-5.6M1265.05 1029.98h5.6M1602.27 1211.2v-5.6M1265.05 1004.04h5.6M1576.33 1211.2v-5.6M1265.05 978.1h5.6M1550.39 1211.2v-5.6M1265.05 952.16h11M1524.45 1211.2v-11M1265.05 926.22h5.6M1498.51 1211.2v-5.6M1265.05 900.28h5.6M1472.57 1211.2v-5.6M1265.05 874.34h5.6M1446.63 1211.2v-5.6M1265.05 848.4h5.6M1420.69 1211.2v-5.6M1265.05 822.46h11M1394.75 1211.2v-11M1265.05 796.52h5.6M1368.81 1211.2v-5.6M1265.05 770.58h5.6M1342.87 1211.2v-5.6M1265.05 744.64h5.6M1316.93 1211.2v-5.6M1265.05 718.7h5.6M1290.99 1211.2v-5.6M1265.05 692.76h11M1847.9 733.03h-5.6M1847.9 786.16h-11M1847.9 839.29h-5.6M1847.9 892.42h-11M1847.9 945.55h-5.6M1847.9 998.68h-11M1847.9 1051.81h-5.6M1847.9 1104.94h-11M1847.9 1158.07h-5.6" stroke="#000" stroke-width="1.9" fill="none"/>
<path d="M1265.05 679.9H1847.9V1211.2H1265.05Z M1783 679.9V1211.2" stroke="#000" stroke-width="1.9" fill="none" stroke-linejoin="miter"/>
</g>
<text transform="translate(287.57,44.20) scale(1.0290,1)" font-size="49">RA Offset [pc]</text>
<text transform="translate(252.67,85.80) scale(1.0332,1)" font-size="49">50</text>
<text transform="translate(429.82,85.80) scale(1.0097,1)" font-size="49">0</text>
<text transform="translate(569.22,85.80) scale(1.0339,1)" font-size="49">-50</text>
<text transform="translate(1368.47,44.20) scale(1.0290,1)" font-size="49">RA Offset [pc]</text>
<text transform="translate(1333.57,85.80) scale(1.0332,1)" font-size="49">50</text>
<text transform="translate(1510.72,85.80) scale(1.0097,1)" font-size="49">0</text>
<text transform="translate(1650.12,85.80) scale(1.0339,1)" font-size="49">-50</text>
<text transform="translate(102.03,136.40) scale(0.9988,1)" font-size="49">1.0</text>
<text transform="translate(100.91,266.90) scale(1.0157,1)" font-size="49">0.5</text>
<text transform="translate(100.91,396.20) scale(1.0157,1)" font-size="49">0.0</text>
<text transform="translate(84.46,525.70) scale(1.0160,1)" font-size="49">-0.5</text>
<text transform="translate(84.47,638.30) scale(1.0129,1)" font-size="49">-1.0</text>
<text transform="translate(46.10,521.22) rotate(-90) scale(1.0259,1)" font-size="49">Dec Offset [&quot;]</text>
<text transform="translate(102.03,709.40) scale(0.9988,1)" font-size="49">1.0</text>
<text transform="translate(100.91,839.90) scale(1.0157,1)" font-size="49">0.5</text>
<text transform="translate(100.91,969.20) scale(1.0157,1)" font-size="49">0.0</text>
<text transform="translate(84.46,1098.70) scale(1.0160,1)" font-size="49">-0.5</text>
<text transform="translate(84.47,1211.30) scale(1.0129,1)" font-size="49">-1.0</text>
<text transform="translate(46.10,1094.22) rotate(-90) scale(1.0259,1)" font-size="49">Dec Offset [&quot;]</text>
<text transform="translate(1182.93,136.40) scale(0.9988,1)" font-size="49">1.0</text>
<text transform="translate(1181.81,266.90) scale(1.0157,1)" font-size="49">0.5</text>
<text transform="translate(1181.81,396.20) scale(1.0157,1)" font-size="49">0.0</text>
<text transform="translate(1165.36,525.70) scale(1.0160,1)" font-size="49">-0.5</text>
<text transform="translate(1165.37,638.30) scale(1.0129,1)" font-size="49">-1.0</text>
<text transform="translate(1127.00,521.22) rotate(-90) scale(1.0259,1)" font-size="49">Dec Offset [&quot;]</text>
<text transform="translate(1182.93,709.40) scale(0.9988,1)" font-size="49">1.0</text>
<text transform="translate(1181.81,839.90) scale(1.0157,1)" font-size="49">0.5</text>
<text transform="translate(1181.81,969.20) scale(1.0157,1)" font-size="49">0.0</text>
<text transform="translate(1165.36,1098.70) scale(1.0160,1)" font-size="49">-0.5</text>
<text transform="translate(1165.37,1211.30) scale(1.0129,1)" font-size="49">-1.0</text>
<text transform="translate(1127.00,1094.22) rotate(-90) scale(1.0259,1)" font-size="49">Dec Offset [&quot;]</text>
<text transform="translate(150.09,1273.90) scale(1.0084,1)" font-size="49">1.0</text>
<text transform="translate(279.74,1273.90) scale(1.0017,1)" font-size="49">0.5</text>
<text transform="translate(409.22,1273.90) scale(1.0111,1)" font-size="49">0.0</text>
<text transform="translate(529.68,1273.90) scale(1.0061,1)" font-size="49">-0.5</text>
<text transform="translate(659.58,1273.90) scale(1.0067,1)" font-size="49">-1.0</text>
<text transform="translate(304.98,1327.90) scale(1.0252,1)" font-size="49">RA Offset [&quot;]</text>
<text transform="translate(1230.99,1273.90) scale(1.0084,1)" font-size="49">1.0</text>
<text transform="translate(1360.64,1273.90) scale(1.0017,1)" font-size="49">0.5</text>
<text transform="translate(1490.12,1273.90) scale(1.0111,1)" font-size="49">0.0</text>
<text transform="translate(1610.58,1273.90) scale(1.0061,1)" font-size="49">-0.5</text>
<text transform="translate(1740.48,1273.90) scale(1.0067,1)" font-size="49">-1.0</text>
<text transform="translate(1385.88,1327.90) scale(1.0252,1)" font-size="49">RA Offset [&quot;]</text>
<text transform="translate(807.64,136.40) scale(1.0282,1)" font-size="49">40</text>
<text transform="translate(806.32,230.54) scale(1.0529,1)" font-size="49">24</text>
<text transform="translate(821.89,336.78) scale(1.0465,1)" font-size="49">8</text>
<text transform="translate(807.46,443.02) scale(1.0612,1)" font-size="49">-8</text>
<text transform="translate(793.43,549.26) scale(1.0293,1)" font-size="49">-24</text>
<text transform="translate(793.41,638.30) scale(1.0369,1)" font-size="49">-40</text>
<text transform="translate(798.04,709.40) scale(1.0218,1)" font-size="49">110</text>
<text transform="translate(807.50,803.54) scale(1.0453,1)" font-size="49">96</text>
<text transform="translate(807.28,909.78) scale(1.0536,1)" font-size="49">82</text>
<text transform="translate(807.03,1016.02) scale(1.0484,1)" font-size="49">68</text>
<text transform="translate(807.59,1122.26) scale(1.0233,1)" font-size="49">54</text>
<text transform="translate(807.64,1211.30) scale(1.0282,1)" font-size="49">40</text>
<text transform="translate(1875.46,136.40) scale(1.0407,1)" font-size="49">0.15</text>
<text transform="translate(1875.44,230.54) scale(1.0522,1)" font-size="49">0.09</text>
<text transform="translate(1875.44,336.78) scale(1.0522,1)" font-size="49">0.03</text>
<text transform="translate(1860.61,443.02) scale(1.0381,1)" font-size="49">-0.03</text>
<text transform="translate(1860.61,549.26) scale(1.0405,1)" font-size="49">-0.09</text>
<text transform="translate(1860.65,638.30) scale(1.0199,1)" font-size="49">-0.15</text>
<text transform="translate(1875.44,709.40) scale(1.0494,1)" font-size="49">0.10</text>
<text transform="translate(1875.44,803.54) scale(1.0522,1)" font-size="49">0.06</text>
<text transform="translate(1875.43,909.78) scale(1.0551,1)" font-size="49">0.02</text>
<text transform="translate(1860.61,1016.02) scale(1.0405,1)" font-size="49">-0.02</text>
<text transform="translate(1860.61,1122.26) scale(1.0381,1)" font-size="49">-0.06</text>
<text transform="translate(1860.63,1211.30) scale(1.0274,1)" font-size="49">-0.10</text>
<text transform="translate(911.00,629.42) rotate(-90) scale(1.0248,1)" font-size="49">Relative Velocity [km/s]</text>
<text transform="translate(922.50,1135.49) rotate(-90) scale(1.0169,1)" font-size="49">Dispersion [km/s]</text>
<text transform="translate(2019.30,396.82) rotate(-90) scale(1.3168,1)" font-size="49">h</text>
<text transform="translate(2032.70,365.50) rotate(-90) scale(0.8713,1)" font-size="31.5">3</text>
<text transform="translate(2019.30,969.82) rotate(-90) scale(1.3168,1)" font-size="49">h</text>
<text transform="translate(2032.70,938.04) rotate(-90) scale(0.8190,1)" font-size="31.5">4</text>
<text transform="translate(196.69,172.00) scale(0.9391,1)" font-size="76">a</text>
<text transform="translate(196.47,745.00) scale(0.9971,1)" font-size="76">b</text>
<text transform="translate(1276.95,172.00) scale(1.0098,1)" font-size="76">c</text>
<text transform="translate(1278.60,745.00) scale(1.0205,1)" font-size="76">d</text>
<g clip-path="url(#fragA)"><text transform="translate(672.59,637.60) scale(1.0522,1)" font-size="49">[&quot;]</text></g>
<g clip-path="url(#fragA)"><text transform="translate(1753.49,637.60) scale(1.0522,1)" font-size="49">[&quot;]</text></g>
<g clip-path="url(#fragB)"><text transform="translate(1770.22,1210.20) scale(0.9286,1)" font-size="49">[</text></g>
<g clip-path="url(#fragB)"><text transform="translate(1817.72,1210.20) scale(0.9838,1)" font-size="49">]</text></g>
<g clip-path="url(#fragD)"><text transform="translate(1835.54,1211.30) scale(1.0011,1)" font-size="49">0</text></g>
<g clip-path="url(#fragD)"><text transform="translate(1824.63,638.30) scale(1.0054,1)" font-size="49">0</text></g>
<g clip-path="url(#fragC)"><text transform="translate(743.83,638.30) scale(1.0054,1)" font-size="49">0</text></g>
</svg></body></html>
